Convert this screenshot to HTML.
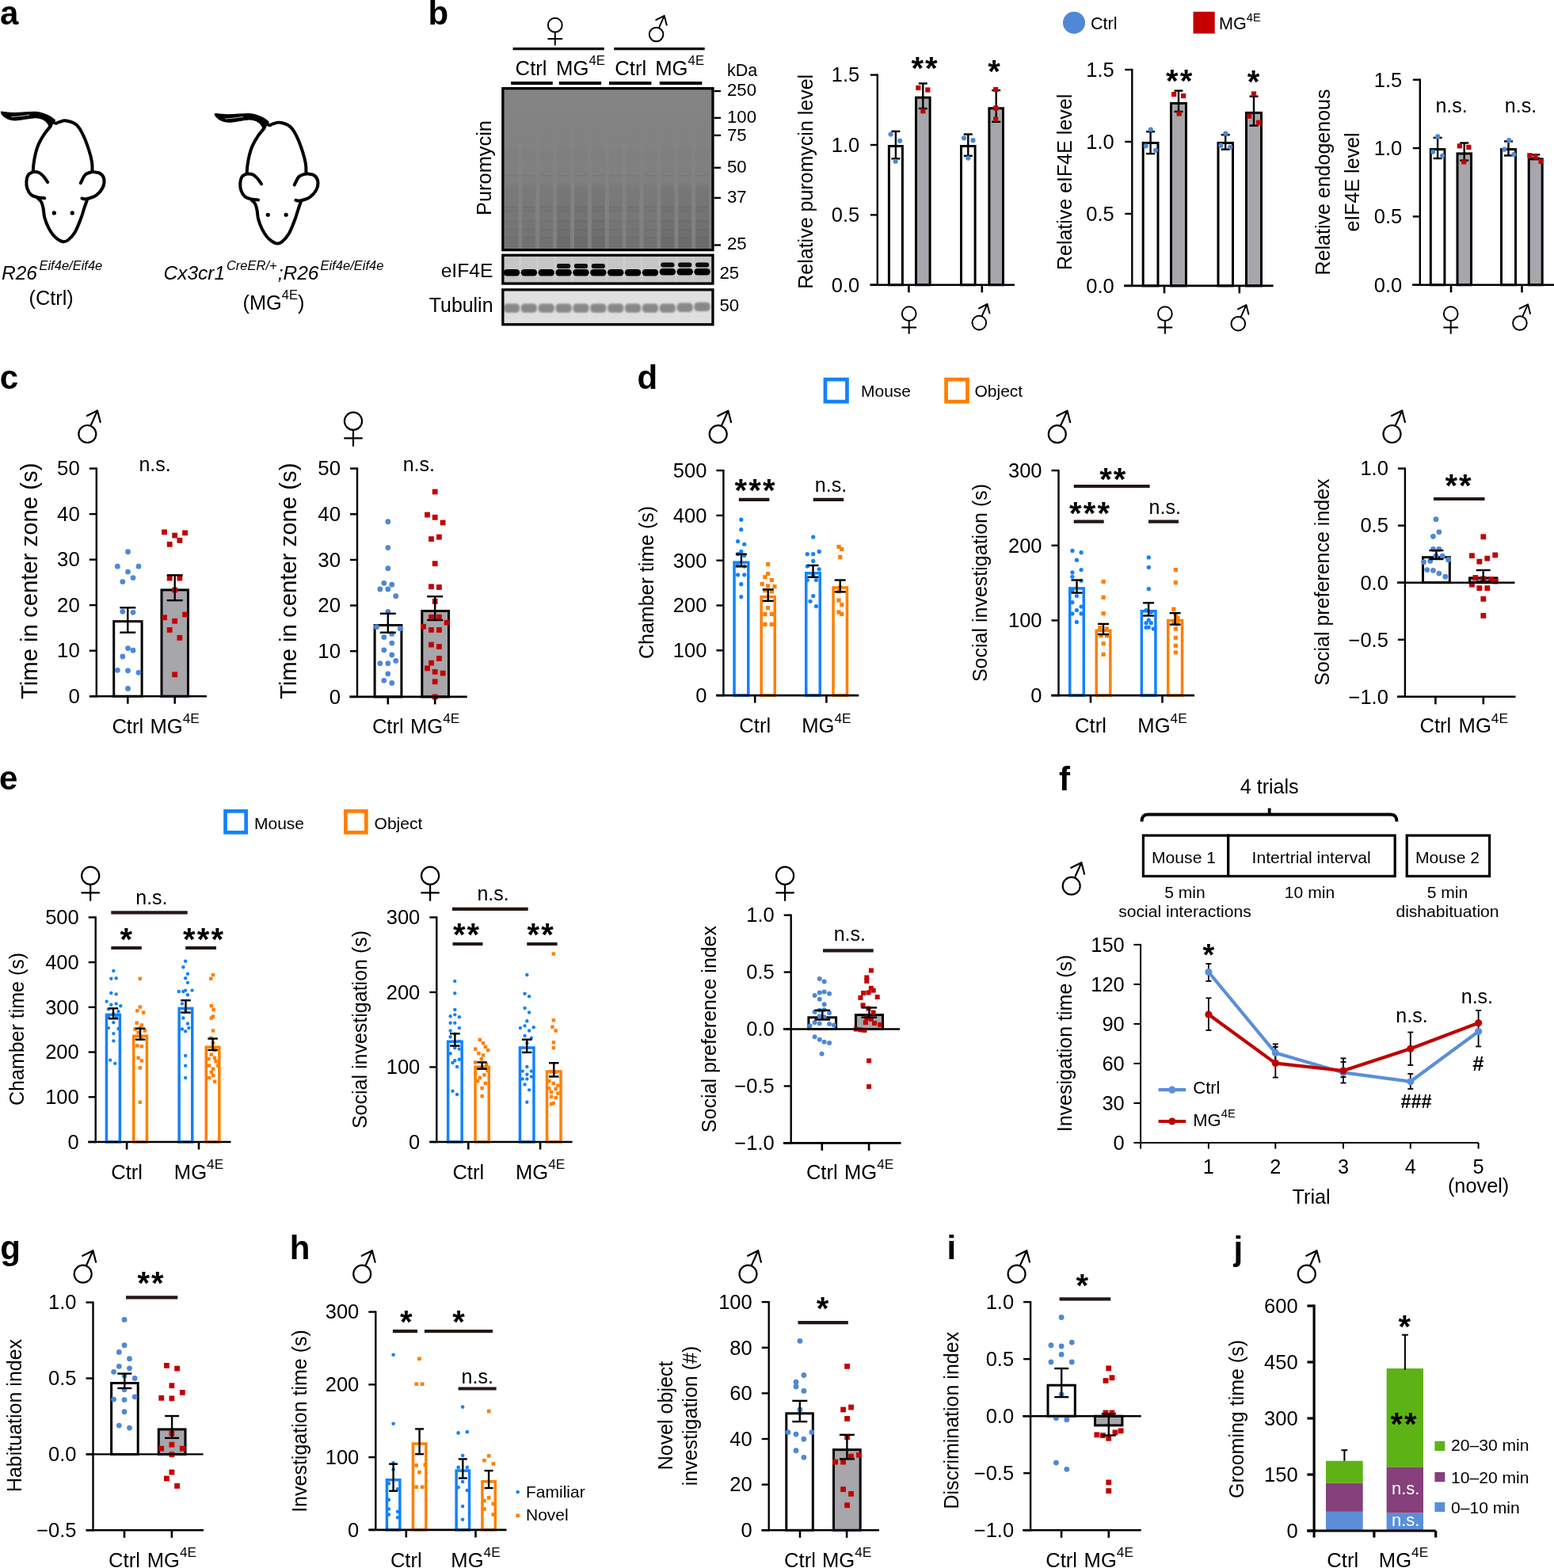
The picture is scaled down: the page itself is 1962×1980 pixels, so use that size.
<!DOCTYPE html>
<html><head><meta charset="utf-8"><title>Figure</title>
<style>
html,body{margin:0;padding:0;background:#fff;}
svg{display:block;}
svg text{font-family:"Liberation Sans", Arial, Helvetica, sans-serif;}
</style></head><body>
<svg width="1962" height="1980" viewBox="0 0 1962 1980">
<rect x="0" y="0" width="1962" height="1980" fill="#fff"/>
<text x="0" y="31" font-size="42" font-weight="bold">a</text>
<path d="M1.47 141.21C4.51 141.42 12.54 142.45 19.67 142.49C26.79 142.52 38.35 141.24 44.25 141.41C50.15 141.57 51.79 142.47 55.06 143.47C58.34 144.47 61.54 146.01 63.91 147.4C66.29 148.8 68.42 151.09 69.32 151.83L62.93 162.45C62.47 161.33 61.57 157.7 60.18 155.76C58.78 153.83 57.23 152.03 54.57 150.85C51.92 149.67 50.07 148.52 44.25 148.68C38.43 148.85 25.48 151.67 19.67 151.83C13.85 151.99 12.16 150.85 9.34 149.67C6.52 148.49 4.06 146.16 2.75 144.75C1.44 143.34 1.69 141.8 1.47 141.21Z" fill="#000" stroke="#000" stroke-width="1.2" stroke-linejoin="round"/>
<path d="M14.75 147.7C16.55 147.54 21.93 147.13 25.57 146.72C29.2 146.31 34.74 145.49 36.58 145.24" fill="none" stroke="#fff" stroke-width="0.9" stroke-linecap="round" opacity="0.85"/>
<path d="M63.91 159.3C62.52 161.06 58.1 166.02 55.56 169.82C53.02 173.63 50.46 178.1 48.67 182.11C46.89 186.13 45.89 189.65 44.84 193.91C43.79 198.17 42.89 203.83 42.38 207.68C41.87 211.53 41.89 215.46 41.79 217.02" fill="none" stroke="#000" stroke-width="4.0" stroke-linecap="round" stroke-linejoin="round"/>
<path d="M67.85 154.58C68.34 154.78 69.65 155.84 70.8 155.76C71.94 155.68 72.6 154.65 74.73 154.09C76.86 153.53 79.97 151.85 83.58 152.42C87.18 152.99 92.89 154.71 96.36 157.53C99.84 160.35 101.8 164.09 104.42 169.33C107.05 174.58 110.16 183.1 112.09 189C114.03 194.9 115.29 200.06 116.03 204.73C116.76 209.4 116.44 214.97 116.52 217.02" fill="none" stroke="#000" stroke-width="4.0" stroke-linecap="round" stroke-linejoin="round"/>
<path d="M41.79 217.02C40.81 217.59 37.28 218.58 35.89 220.46C34.5 222.35 33.68 225.38 33.43 228.33C33.19 231.28 33.43 235.21 34.41 238.16C35.4 241.11 37.2 244.19 39.33 246.03C41.46 247.86 44.38 248.49 47.2 249.17C50.02 249.86 54.74 249.99 56.24 250.16" fill="none" stroke="#000" stroke-width="4.0" stroke-linecap="round" stroke-linejoin="round"/>
<path d="M41.79 217.02C43.02 217.18 46.95 217.02 49.16 218C51.38 218.99 53.23 220.9 55.06 222.92C56.9 224.94 59.32 228.9 60.18 230.1" fill="none" stroke="#000" stroke-width="4.0" stroke-linecap="round" stroke-linejoin="round"/>
<path d="M116.52 217.02C118.16 217.35 123.89 217.51 126.35 218.99C128.81 220.46 130.69 222.92 131.27 225.87C131.84 228.82 131.43 233.24 129.79 236.69C128.15 240.13 124.88 244.11 121.44 246.52C117.99 248.93 112.14 250.47 109.14 251.14C106.15 251.81 104.39 250.65 103.44 250.55" fill="none" stroke="#000" stroke-width="4.0" stroke-linecap="round" stroke-linejoin="round"/>
<path d="M116.52 217.02C115.04 217.63 110.13 218.28 107.67 220.66C105.21 223.04 102.75 229.51 101.77 231.28" fill="none" stroke="#000" stroke-width="4.0" stroke-linecap="round" stroke-linejoin="round"/>
<path d="M48.18 250.75C48.84 251.44 51.05 252.88 52.11 254.88C53.18 256.88 53.88 259.47 54.57 262.74C55.26 266.02 55.15 270.45 56.24 274.54C57.34 278.64 59.06 283.31 61.16 287.33C63.26 291.34 65.91 295.68 68.83 298.63C71.75 301.58 75.84 304.25 78.66 305.02C81.48 305.79 83.09 305.22 85.74 303.25C88.4 301.29 91.84 297.85 94.59 293.23C97.35 288.6 100.29 280.61 102.26 275.53C104.23 270.45 105.08 266.68 106.39 262.74C107.7 258.81 109.51 253.73 110.13 251.93" fill="none" stroke="#000" stroke-width="4.0" stroke-linecap="round" stroke-linejoin="round"/>
<circle cx="68.34" cy="268.94" r="2.6" fill="#000"/>
<circle cx="91.25" cy="268.94" r="2.6" fill="#000"/>
<path d="M271.37 143.51C274.41 143.72 282.44 144.75 289.57 144.79C296.69 144.82 308.25 143.54 314.15 143.71C320.05 143.87 321.69 144.77 324.96 145.77C328.24 146.77 331.44 148.31 333.81 149.7C336.19 151.1 338.32 153.39 339.22 154.13L332.83 164.75C332.37 163.63 331.47 160 330.08 158.06C328.68 156.13 327.13 154.33 324.47 153.15C321.82 151.97 319.97 150.82 314.15 150.98C308.33 151.15 295.38 153.97 289.57 154.13C283.75 154.29 282.06 153.15 279.24 151.97C276.42 150.79 273.96 148.46 272.65 147.05C271.34 145.64 271.59 144.1 271.37 143.51Z" fill="#000" stroke="#000" stroke-width="1.2" stroke-linejoin="round"/>
<path d="M284.65 150C286.45 149.84 291.83 149.43 295.47 149.02C299.1 148.61 304.64 147.79 306.48 147.54" fill="none" stroke="#fff" stroke-width="0.9" stroke-linecap="round" opacity="0.85"/>
<path d="M333.81 161.6C332.42 163.36 328 168.32 325.46 172.12C322.92 175.93 320.36 180.4 318.57 184.41C316.79 188.43 315.79 191.95 314.74 196.21C313.69 200.47 312.79 206.13 312.28 209.98C311.77 213.83 311.79 217.76 311.69 219.32" fill="none" stroke="#000" stroke-width="4.0" stroke-linecap="round" stroke-linejoin="round"/>
<path d="M337.75 156.88C338.24 157.08 339.55 158.14 340.7 158.06C341.84 157.98 342.5 156.95 344.63 156.39C346.76 155.83 349.87 154.15 353.48 154.72C357.08 155.29 362.79 157.01 366.26 159.83C369.74 162.65 371.7 166.39 374.32 171.63C376.95 176.88 380.06 185.4 381.99 191.3C383.93 197.2 385.19 202.36 385.93 207.03C386.66 211.7 386.34 217.27 386.42 219.32" fill="none" stroke="#000" stroke-width="4.0" stroke-linecap="round" stroke-linejoin="round"/>
<path d="M311.69 219.32C310.71 219.89 307.18 220.88 305.79 222.76C304.4 224.65 303.58 227.68 303.33 230.63C303.09 233.58 303.33 237.51 304.31 240.46C305.3 243.41 307.1 246.49 309.23 248.33C311.36 250.16 314.28 250.79 317.1 251.47C319.92 252.16 324.64 252.29 326.14 252.46" fill="none" stroke="#000" stroke-width="4.0" stroke-linecap="round" stroke-linejoin="round"/>
<path d="M311.69 219.32C312.92 219.48 316.85 219.32 319.06 220.3C321.28 221.29 323.13 223.2 324.96 225.22C326.8 227.24 329.22 231.2 330.08 232.4" fill="none" stroke="#000" stroke-width="4.0" stroke-linecap="round" stroke-linejoin="round"/>
<path d="M386.42 219.32C388.06 219.65 393.79 219.81 396.25 221.29C398.71 222.76 400.59 225.22 401.17 228.17C401.74 231.12 401.33 235.54 399.69 238.99C398.05 242.43 394.78 246.41 391.34 248.82C387.89 251.23 382.04 252.77 379.04 253.44C376.05 254.11 374.29 252.95 373.34 252.85" fill="none" stroke="#000" stroke-width="4.0" stroke-linecap="round" stroke-linejoin="round"/>
<path d="M386.42 219.32C384.94 219.93 380.03 220.58 377.57 222.96C375.11 225.34 372.65 231.81 371.67 233.58" fill="none" stroke="#000" stroke-width="4.0" stroke-linecap="round" stroke-linejoin="round"/>
<path d="M318.08 253.05C318.74 253.74 320.95 255.18 322.01 257.18C323.08 259.18 323.78 261.77 324.47 265.04C325.16 268.32 325.05 272.75 326.14 276.84C327.24 280.94 328.96 285.61 331.06 289.63C333.16 293.64 335.81 297.98 338.73 300.93C341.65 303.88 345.74 306.55 348.56 307.32C351.38 308.09 352.99 307.52 355.64 305.55C358.3 303.59 361.74 300.15 364.49 295.53C367.25 290.9 370.19 282.91 372.16 277.83C374.13 272.75 374.98 268.98 376.29 265.04C377.6 261.11 379.41 256.03 380.03 254.23" fill="none" stroke="#000" stroke-width="4.0" stroke-linecap="round" stroke-linejoin="round"/>
<circle cx="338.24" cy="271.24" r="2.6" fill="#000"/>
<circle cx="361.15" cy="271.24" r="2.6" fill="#000"/>
<text x="2" y="352.7" font-size="24.5" font-style="italic">R26<tspan font-size="16.5" dy="-12" dx="2.5">Eif4e/Eif4e</tspan></text>
<text x="64.6" y="384.5" font-size="25.3" text-anchor="middle">(Ctrl)</text>
<text x="206.5" y="352.7" font-size="24.5" font-style="italic">Cx3cr1<tspan font-size="16.5" dy="-12" dx="1.8">CreER/+</tspan><tspan dy="12" dx="1">;R26</tspan><tspan font-size="16.5" dy="-12" dx="2.2">Eif4e/Eif4e</tspan></text>
<text x="345.5" y="390.5" font-size="25.3" text-anchor="middle">(MG<tspan font-size="16.5" dy="-12.5">4E</tspan><tspan dy="12.5">)</tspan></text>
<text x="540.5" y="30.7" font-size="42" font-weight="bold">b</text>
<g fill="none" stroke="#000" stroke-width="1.97"><circle cx="700.8" cy="31.7" r="8.88"/><path d="M700.8 40.58L700.8 57.3M691.44 48.98L710.16 48.98"/></g>
<g fill="none" stroke="#000" stroke-width="1.97" stroke-linecap="round" stroke-linejoin="round"><circle cx="828.6" cy="43.5" r="8.8"/><path d="M832.2 34.54L838.76 19.9M828.28 25.18L838.76 19.9L841.72 31.5"/></g>
<line x1="647.6" y1="61.6" x2="762.8" y2="61.6" stroke="#000" stroke-width="3.3"/>
<line x1="775.2" y1="61.6" x2="889.7" y2="61.6" stroke="#000" stroke-width="3.3"/>
<text x="670.6" y="94.5" font-size="25.7" text-anchor="middle">Ctrl</text>
<text x="702" y="94.5" font-size="25.7">MG<tspan font-size="16.8" dy="-12.85">4E</tspan></text>
<text x="796.2" y="94.5" font-size="25.7" text-anchor="middle">Ctrl</text>
<text x="827.2" y="94.5" font-size="25.7">MG<tspan font-size="16.8" dy="-12.85">4E</tspan></text>
<line x1="645.2" y1="105" x2="697.8" y2="105" stroke="#000" stroke-width="4"/>
<line x1="705.8" y1="105" x2="759.1" y2="105" stroke="#000" stroke-width="4"/>
<line x1="769" y1="105" x2="822.4" y2="105" stroke="#000" stroke-width="4"/>
<line x1="832.8" y1="105" x2="886.3" y2="105" stroke="#000" stroke-width="4"/>
<defs><linearGradient id="pg" x1="0" y1="0" x2="0" y2="1"><stop offset="0" stop-color="#848484"/><stop offset="1" stop-color="#808080"/></linearGradient><linearGradient id="lg" x1="0" y1="0" x2="0" y2="1"><stop offset="0" stop-color="#000" stop-opacity="0"/><stop offset="0.36" stop-color="#000" stop-opacity="0.01"/><stop offset="0.40" stop-color="#000" stop-opacity="0.03"/><stop offset="0.47" stop-color="#000" stop-opacity="0.015"/><stop offset="0.57" stop-color="#000" stop-opacity="0.015"/><stop offset="0.61" stop-color="#000" stop-opacity="0.06"/><stop offset="0.8" stop-color="#000" stop-opacity="0.08"/><stop offset="1" stop-color="#000" stop-opacity="0.12"/></linearGradient><linearGradient id="lg2" x1="0" y1="0" x2="0" y2="1"><stop offset="0" stop-color="#000" stop-opacity="0"/><stop offset="0.36" stop-color="#000" stop-opacity="0.01"/><stop offset="0.40" stop-color="#000" stop-opacity="0.035"/><stop offset="0.47" stop-color="#000" stop-opacity="0.02"/><stop offset="0.57" stop-color="#000" stop-opacity="0.02"/><stop offset="0.61" stop-color="#000" stop-opacity="0.075"/><stop offset="0.8" stop-color="#000" stop-opacity="0.11"/><stop offset="1" stop-color="#000" stop-opacity="0.17"/></linearGradient><filter id="bl" x="-20%" y="-50%" width="140%" height="200%"><feGaussianBlur stdDeviation="0.7"/></filter><filter id="bl2" x="-20%" y="-50%" width="140%" height="200%"><feGaussianBlur stdDeviation="1.1"/></filter></defs>
<rect x="634.85" y="111.65" width="265.1" height="204" fill="url(#pg)"/>
<rect x="637.5" y="113" width="17" height="202" fill="url(#lg)"/>
<rect x="659.37" y="113" width="17" height="202" fill="url(#lg)"/>
<rect x="681.24" y="113" width="17" height="202" fill="url(#lg)"/>
<rect x="703.11" y="113" width="17" height="202" fill="url(#lg2)"/>
<rect x="724.98" y="113" width="17" height="202" fill="url(#lg2)"/>
<rect x="746.85" y="113" width="17" height="202" fill="url(#lg2)"/>
<rect x="768.72" y="113" width="17" height="202" fill="url(#lg)"/>
<rect x="790.59" y="113" width="17" height="202" fill="url(#lg)"/>
<rect x="812.46" y="113" width="17" height="202" fill="url(#lg)"/>
<rect x="834.33" y="113" width="17" height="202" fill="url(#lg2)"/>
<rect x="856.2" y="113" width="17" height="202" fill="url(#lg2)"/>
<rect x="878.07" y="113" width="17" height="202" fill="url(#lg2)"/>
<rect x="638" y="221" width="16" height="1.6" fill="#000" opacity="0.05"/>
<rect x="638" y="260.8" width="16" height="2.4" fill="#000" opacity="0.05"/>
<rect x="638" y="265.3" width="16" height="2.4" fill="#000" opacity="0.04"/>
<rect x="638" y="278.3" width="16" height="2.4" fill="#000" opacity="0.03"/>
<rect x="638" y="288.8" width="16" height="2.4" fill="#000" opacity="0.04"/>
<rect x="638" y="298.8" width="16" height="2.4" fill="#000" opacity="0.04"/>
<rect x="659.87" y="221" width="16" height="1.6" fill="#000" opacity="0.05"/>
<rect x="659.87" y="260.8" width="16" height="2.4" fill="#000" opacity="0.05"/>
<rect x="659.87" y="265.3" width="16" height="2.4" fill="#000" opacity="0.04"/>
<rect x="659.87" y="278.3" width="16" height="2.4" fill="#000" opacity="0.03"/>
<rect x="659.87" y="288.8" width="16" height="2.4" fill="#000" opacity="0.04"/>
<rect x="659.87" y="298.8" width="16" height="2.4" fill="#000" opacity="0.04"/>
<rect x="681.74" y="221" width="16" height="1.6" fill="#000" opacity="0.05"/>
<rect x="681.74" y="260.8" width="16" height="2.4" fill="#000" opacity="0.05"/>
<rect x="681.74" y="265.3" width="16" height="2.4" fill="#000" opacity="0.04"/>
<rect x="681.74" y="278.3" width="16" height="2.4" fill="#000" opacity="0.03"/>
<rect x="681.74" y="288.8" width="16" height="2.4" fill="#000" opacity="0.04"/>
<rect x="681.74" y="298.8" width="16" height="2.4" fill="#000" opacity="0.04"/>
<rect x="703.61" y="221" width="16" height="1.6" fill="#000" opacity="0.05"/>
<rect x="703.61" y="260.8" width="16" height="2.4" fill="#000" opacity="0.05"/>
<rect x="703.61" y="265.3" width="16" height="2.4" fill="#000" opacity="0.04"/>
<rect x="703.61" y="278.3" width="16" height="2.4" fill="#000" opacity="0.06"/>
<rect x="703.61" y="288.8" width="16" height="2.4" fill="#000" opacity="0.04"/>
<rect x="703.61" y="298.8" width="16" height="2.4" fill="#000" opacity="0.04"/>
<rect x="725.48" y="221" width="16" height="1.6" fill="#000" opacity="0.05"/>
<rect x="725.48" y="260.8" width="16" height="2.4" fill="#000" opacity="0.05"/>
<rect x="725.48" y="265.3" width="16" height="2.4" fill="#000" opacity="0.04"/>
<rect x="725.48" y="278.3" width="16" height="2.4" fill="#000" opacity="0.06"/>
<rect x="725.48" y="288.8" width="16" height="2.4" fill="#000" opacity="0.04"/>
<rect x="725.48" y="298.8" width="16" height="2.4" fill="#000" opacity="0.04"/>
<rect x="747.35" y="221" width="16" height="1.6" fill="#000" opacity="0.05"/>
<rect x="747.35" y="260.8" width="16" height="2.4" fill="#000" opacity="0.05"/>
<rect x="747.35" y="265.3" width="16" height="2.4" fill="#000" opacity="0.04"/>
<rect x="747.35" y="278.3" width="16" height="2.4" fill="#000" opacity="0.06"/>
<rect x="747.35" y="288.8" width="16" height="2.4" fill="#000" opacity="0.04"/>
<rect x="747.35" y="298.8" width="16" height="2.4" fill="#000" opacity="0.04"/>
<rect x="769.22" y="221" width="16" height="1.6" fill="#000" opacity="0.05"/>
<rect x="769.22" y="260.8" width="16" height="2.4" fill="#000" opacity="0.05"/>
<rect x="769.22" y="265.3" width="16" height="2.4" fill="#000" opacity="0.04"/>
<rect x="769.22" y="278.3" width="16" height="2.4" fill="#000" opacity="0.03"/>
<rect x="769.22" y="288.8" width="16" height="2.4" fill="#000" opacity="0.04"/>
<rect x="769.22" y="298.8" width="16" height="2.4" fill="#000" opacity="0.04"/>
<rect x="791.09" y="221" width="16" height="1.6" fill="#000" opacity="0.05"/>
<rect x="791.09" y="260.8" width="16" height="2.4" fill="#000" opacity="0.05"/>
<rect x="791.09" y="265.3" width="16" height="2.4" fill="#000" opacity="0.04"/>
<rect x="791.09" y="278.3" width="16" height="2.4" fill="#000" opacity="0.03"/>
<rect x="791.09" y="288.8" width="16" height="2.4" fill="#000" opacity="0.04"/>
<rect x="791.09" y="298.8" width="16" height="2.4" fill="#000" opacity="0.04"/>
<rect x="812.96" y="221" width="16" height="1.6" fill="#000" opacity="0.05"/>
<rect x="812.96" y="260.8" width="16" height="2.4" fill="#000" opacity="0.05"/>
<rect x="812.96" y="265.3" width="16" height="2.4" fill="#000" opacity="0.04"/>
<rect x="812.96" y="278.3" width="16" height="2.4" fill="#000" opacity="0.03"/>
<rect x="812.96" y="288.8" width="16" height="2.4" fill="#000" opacity="0.04"/>
<rect x="812.96" y="298.8" width="16" height="2.4" fill="#000" opacity="0.04"/>
<rect x="834.83" y="221" width="16" height="1.6" fill="#000" opacity="0.05"/>
<rect x="834.83" y="260.8" width="16" height="2.4" fill="#000" opacity="0.05"/>
<rect x="834.83" y="265.3" width="16" height="2.4" fill="#000" opacity="0.04"/>
<rect x="834.83" y="278.3" width="16" height="2.4" fill="#000" opacity="0.06"/>
<rect x="834.83" y="288.8" width="16" height="2.4" fill="#000" opacity="0.04"/>
<rect x="834.83" y="298.8" width="16" height="2.4" fill="#000" opacity="0.04"/>
<rect x="856.7" y="221" width="16" height="1.6" fill="#000" opacity="0.05"/>
<rect x="856.7" y="260.8" width="16" height="2.4" fill="#000" opacity="0.05"/>
<rect x="856.7" y="265.3" width="16" height="2.4" fill="#000" opacity="0.04"/>
<rect x="856.7" y="278.3" width="16" height="2.4" fill="#000" opacity="0.06"/>
<rect x="856.7" y="288.8" width="16" height="2.4" fill="#000" opacity="0.04"/>
<rect x="856.7" y="298.8" width="16" height="2.4" fill="#000" opacity="0.04"/>
<rect x="878.57" y="221" width="16" height="1.6" fill="#000" opacity="0.05"/>
<rect x="878.57" y="260.8" width="16" height="2.4" fill="#000" opacity="0.05"/>
<rect x="878.57" y="265.3" width="16" height="2.4" fill="#000" opacity="0.04"/>
<rect x="878.57" y="278.3" width="16" height="2.4" fill="#000" opacity="0.06"/>
<rect x="878.57" y="288.8" width="16" height="2.4" fill="#000" opacity="0.04"/>
<rect x="878.57" y="298.8" width="16" height="2.4" fill="#000" opacity="0.04"/>
<rect x="634.85" y="111.65" width="265.1" height="204" fill="none" stroke="#000" stroke-width="3.3"/>
<rect x="634.85" y="322.25" width="265.1" height="35.8" fill="#c6c6c6"/>
<rect x="655.43" y="324" width="3" height="32.5" fill="#fff" opacity="0.12"/>
<rect x="677.31" y="324" width="3" height="32.5" fill="#fff" opacity="0.12"/>
<rect x="699.17" y="324" width="3" height="32.5" fill="#fff" opacity="0.12"/>
<rect x="721.05" y="324" width="3" height="32.5" fill="#fff" opacity="0.12"/>
<rect x="742.91" y="324" width="3" height="32.5" fill="#fff" opacity="0.12"/>
<rect x="764.79" y="324" width="3" height="32.5" fill="#fff" opacity="0.12"/>
<rect x="786.65" y="324" width="3" height="32.5" fill="#fff" opacity="0.12"/>
<rect x="808.53" y="324" width="3" height="32.5" fill="#fff" opacity="0.12"/>
<rect x="830.39" y="324" width="3" height="32.5" fill="#fff" opacity="0.12"/>
<rect x="852.27" y="324" width="3" height="32.5" fill="#fff" opacity="0.12"/>
<rect x="874.13" y="324" width="3" height="32.5" fill="#fff" opacity="0.12"/>
<g filter="url(#bl)">
<rect x="635.8" y="340" width="20.4" height="8.4" rx="4.2" fill="#000"/>
<rect x="657.67" y="340" width="20.4" height="8.4" rx="4.2" fill="#000"/>
<rect x="679.54" y="340" width="20.4" height="8.4" rx="4.2" fill="#000"/>
<rect x="701.41" y="340" width="20.4" height="8.4" rx="4.2" fill="#000"/>
<rect x="703.01" y="333" width="17.2" height="6" rx="3" fill="#080808"/>
<rect x="723.28" y="340" width="20.4" height="8.4" rx="4.2" fill="#000"/>
<rect x="724.88" y="333" width="17.2" height="6" rx="3" fill="#080808"/>
<rect x="745.15" y="340" width="20.4" height="8.4" rx="4.2" fill="#000"/>
<rect x="746.75" y="333" width="17.2" height="6" rx="3" fill="#080808"/>
<rect x="767.02" y="340" width="20.4" height="8.4" rx="4.2" fill="#000"/>
<rect x="788.89" y="340" width="20.4" height="8.4" rx="4.2" fill="#000"/>
<rect x="810.76" y="340" width="20.4" height="8.4" rx="4.2" fill="#000"/>
<rect x="832.63" y="339.1" width="20.4" height="8.4" rx="4.2" fill="#000"/>
<rect x="834.23" y="331.5" width="17.2" height="6" rx="3" fill="#080808"/>
<rect x="854.5" y="339.1" width="20.4" height="8.4" rx="4.2" fill="#000"/>
<rect x="856.1" y="331.5" width="17.2" height="6" rx="3" fill="#080808"/>
<rect x="876.37" y="339.1" width="20.4" height="8.4" rx="4.2" fill="#000"/>
<rect x="877.97" y="331.5" width="17.2" height="6" rx="3" fill="#080808"/>
</g>
<rect x="634.85" y="322.25" width="265.1" height="35.8" fill="none" stroke="#000" stroke-width="3.3"/>
<rect x="634.85" y="365.85" width="265.1" height="43.9" fill="#e0e0e0"/>
<g filter="url(#bl2)">
<rect x="636" y="383.5" width="20" height="11.3" rx="4.5" fill="#888888"/>
<rect x="638" y="399.5" width="16" height="1" fill="#000" opacity="0.05"/>
<rect x="657.87" y="383.5" width="20" height="11.3" rx="4.5" fill="#888888"/>
<rect x="659.87" y="399.5" width="16" height="1" fill="#000" opacity="0.05"/>
<rect x="679.74" y="383.5" width="20" height="11.3" rx="4.5" fill="#888888"/>
<rect x="681.74" y="399.5" width="16" height="1" fill="#000" opacity="0.05"/>
<rect x="701.61" y="383.5" width="20" height="11.3" rx="4.5" fill="#888888"/>
<rect x="703.61" y="399.5" width="16" height="1" fill="#000" opacity="0.05"/>
<rect x="723.48" y="383.5" width="20" height="11.3" rx="4.5" fill="#888888"/>
<rect x="725.48" y="399.5" width="16" height="1" fill="#000" opacity="0.05"/>
<rect x="745.35" y="383.5" width="20" height="11.3" rx="4.5" fill="#888888"/>
<rect x="747.35" y="399.5" width="16" height="1" fill="#000" opacity="0.05"/>
<rect x="767.22" y="383.5" width="20" height="11.3" rx="4.5" fill="#888888"/>
<rect x="769.22" y="399.5" width="16" height="1" fill="#000" opacity="0.05"/>
<rect x="789.09" y="383.5" width="20" height="11.3" rx="4.5" fill="#888888"/>
<rect x="791.09" y="399.5" width="16" height="1" fill="#000" opacity="0.05"/>
<rect x="810.96" y="383.5" width="20" height="11.3" rx="4.5" fill="#888888"/>
<rect x="812.96" y="399.5" width="16" height="1" fill="#000" opacity="0.05"/>
<rect x="832.83" y="383.5" width="20" height="11.3" rx="4.5" fill="#888888"/>
<rect x="834.83" y="399.5" width="16" height="1" fill="#000" opacity="0.05"/>
<rect x="854.7" y="382.6" width="20" height="11.3" rx="4.5" fill="#888888"/>
<rect x="856.7" y="399.5" width="16" height="1" fill="#000" opacity="0.05"/>
<rect x="876.57" y="381.7" width="20" height="11.3" rx="4.5" fill="#888888"/>
<rect x="878.57" y="399.5" width="16" height="1" fill="#000" opacity="0.05"/>
</g>
<rect x="634.85" y="365.85" width="265.1" height="43.9" fill="none" stroke="#000" stroke-width="3.3"/>
<text x="918" y="96.4" font-size="21.5">kDa</text>
<line x1="901.6" y1="115" x2="910" y2="115" stroke="#000" stroke-width="2.4"/>
<text x="918" y="121.1" font-size="22.2">250</text>
<line x1="901.6" y1="148.9" x2="910" y2="148.9" stroke="#000" stroke-width="2.4"/>
<text x="918" y="155.2" font-size="22.2">100</text>
<line x1="901.6" y1="170.9" x2="910" y2="170.9" stroke="#000" stroke-width="2.4"/>
<text x="918" y="177.5" font-size="22.2">75</text>
<line x1="901.6" y1="211.8" x2="910" y2="211.8" stroke="#000" stroke-width="2.4"/>
<text x="918" y="217.5" font-size="22.2">50</text>
<line x1="901.6" y1="249.9" x2="910" y2="249.9" stroke="#000" stroke-width="2.4"/>
<text x="918" y="256.3" font-size="22.2">37</text>
<line x1="901.6" y1="309.5" x2="910" y2="309.5" stroke="#000" stroke-width="2.4"/>
<text x="918" y="315.1" font-size="22.2">25</text>
<text x="908.5" y="351.5" font-size="22.2">25</text>
<text x="908.5" y="392.7" font-size="22.2">50</text>
<text x="620" y="212" font-size="25.4" text-anchor="middle" transform="rotate(-90 620 212)">Puromycin</text>
<text x="622.5" y="350.3" font-size="24.7" text-anchor="end">eIF4E</text>
<text x="622.5" y="393.8" font-size="24.9" text-anchor="end">Tubulin</text>
<rect x="1122.4" y="184.5" width="17" height="175.3" fill="#fff" stroke="#000" stroke-width="3"/>
<rect x="1156.5" y="123.15" width="17.6" height="236.65" fill="#A6A6AB" stroke="#000" stroke-width="3"/>
<rect x="1213.5" y="184.5" width="17.6" height="175.3" fill="#fff" stroke="#000" stroke-width="3"/>
<rect x="1248.9" y="136.76" width="17.6" height="223.04" fill="#A6A6AB" stroke="#000" stroke-width="3"/>
<line x1="1130.9" y1="165.85" x2="1130.9" y2="200.33" stroke="#000" stroke-width="2.4"/>
<line x1="1125.4" y1="165.85" x2="1136.4" y2="165.85" stroke="#000" stroke-width="2.4"/>
<line x1="1125.4" y1="200.33" x2="1136.4" y2="200.33" stroke="#000" stroke-width="2.4"/>
<line x1="1165.3" y1="105.38" x2="1165.3" y2="137.03" stroke="#000" stroke-width="2.4"/>
<line x1="1159.8" y1="105.38" x2="1170.8" y2="105.38" stroke="#000" stroke-width="2.4"/>
<line x1="1159.8" y1="137.03" x2="1170.8" y2="137.03" stroke="#000" stroke-width="2.4"/>
<line x1="1222.3" y1="169.56" x2="1222.3" y2="196.79" stroke="#000" stroke-width="2.4"/>
<line x1="1216.8" y1="169.56" x2="1227.8" y2="169.56" stroke="#000" stroke-width="2.4"/>
<line x1="1216.8" y1="196.79" x2="1227.8" y2="196.79" stroke="#000" stroke-width="2.4"/>
<line x1="1257.7" y1="114.05" x2="1257.7" y2="153.83" stroke="#000" stroke-width="2.4"/>
<line x1="1252.2" y1="114.05" x2="1263.2" y2="114.05" stroke="#000" stroke-width="2.4"/>
<line x1="1252.2" y1="153.83" x2="1263.2" y2="153.83" stroke="#000" stroke-width="2.4"/>
<circle cx="1124.57" cy="169.57" r="3.1" fill="#4F88D6"/>
<circle cx="1136.09" cy="177.83" r="3.1" fill="#4F88D6"/>
<circle cx="1130.65" cy="203.7" r="3.1" fill="#4F88D6"/>
<circle cx="1216.96" cy="174.35" r="3.1" fill="#4F88D6"/>
<circle cx="1228.48" cy="177.17" r="3.1" fill="#4F88D6"/>
<circle cx="1222.39" cy="199.57" r="3.1" fill="#4F88D6"/>
<rect x="1156.25" y="107.77" width="6.2" height="6.2" fill="#C40000"/>
<rect x="1168.2" y="110.38" width="6.2" height="6.2" fill="#C40000"/>
<rect x="1162.33" y="137.12" width="6.2" height="6.2" fill="#C40000"/>
<rect x="1254.07" y="109.94" width="6.2" height="6.2" fill="#C40000"/>
<rect x="1254.07" y="133.42" width="6.2" height="6.2" fill="#C40000"/>
<rect x="1254.07" y="147.33" width="6.2" height="6.2" fill="#C40000"/>
<line x1="1107.8" y1="93.4" x2="1107.8" y2="361" stroke="#000" stroke-width="2.4"/>
<line x1="1098.8" y1="359.8" x2="1107.8" y2="359.8" stroke="#000" stroke-width="2.4"/>
<text x="1085.2" y="368.6" font-size="25.5" text-anchor="end">0.0</text>
<line x1="1098.8" y1="271.4" x2="1107.8" y2="271.4" stroke="#000" stroke-width="2.4"/>
<text x="1085.2" y="280.2" font-size="25.5" text-anchor="end">0.5</text>
<line x1="1098.8" y1="183" x2="1107.8" y2="183" stroke="#000" stroke-width="2.4"/>
<text x="1085.2" y="191.8" font-size="25.5" text-anchor="end">1.0</text>
<line x1="1098.8" y1="94.6" x2="1107.8" y2="94.6" stroke="#000" stroke-width="2.4"/>
<text x="1085.2" y="103.4" font-size="25.5" text-anchor="end">1.5</text>
<line x1="1098.5" y1="359.8" x2="1281" y2="359.8" stroke="#000" stroke-width="2.6"/>
<line x1="1147.4" y1="359.8" x2="1147.4" y2="369.3" stroke="#000" stroke-width="2.6"/>
<line x1="1239.8" y1="359.8" x2="1239.8" y2="369.3" stroke="#000" stroke-width="2.6"/>
<g fill="none" stroke="#000" stroke-width="1.97"><circle cx="1147.7" cy="396.2" r="8.88"/><path d="M1147.7 405.08L1147.7 421.8M1138.34 413.48L1157.06 413.48"/></g>
<g fill="none" stroke="#000" stroke-width="1.97" stroke-linecap="round" stroke-linejoin="round"><circle cx="1236.3" cy="407.6" r="8.8"/><path d="M1239.9 398.64L1246.46 384M1235.98 389.28L1246.46 384L1249.42 395.6"/></g>
<text x="1168.05" y="100.4" font-size="40" text-anchor="middle" font-weight="bold" letter-spacing="2.1">**</text>
<text x="1255" y="103.6" font-size="40" text-anchor="middle" font-weight="bold">*</text>
<text x="1025.6" y="229.3" font-size="25" text-anchor="middle" transform="rotate(-90 1025.6 229.3)">Relative puromycin level</text>
<rect x="1443.2" y="180.47" width="18.8" height="180.43" fill="#fff" stroke="#000" stroke-width="3"/>
<rect x="1478.5" y="130.44" width="19" height="230.46" fill="#A6A6AB" stroke="#000" stroke-width="3"/>
<rect x="1538" y="180.47" width="18.5" height="180.43" fill="#fff" stroke="#000" stroke-width="3"/>
<rect x="1573.5" y="142.44" width="19" height="218.46" fill="#A6A6AB" stroke="#000" stroke-width="3"/>
<line x1="1452.6" y1="166.23" x2="1452.6" y2="194.07" stroke="#000" stroke-width="2.4"/>
<line x1="1447.1" y1="166.23" x2="1458.1" y2="166.23" stroke="#000" stroke-width="2.4"/>
<line x1="1447.1" y1="194.07" x2="1458.1" y2="194.07" stroke="#000" stroke-width="2.4"/>
<line x1="1488" y1="114.56" x2="1488" y2="140.94" stroke="#000" stroke-width="2.4"/>
<line x1="1482.5" y1="114.56" x2="1493.5" y2="114.56" stroke="#000" stroke-width="2.4"/>
<line x1="1482.5" y1="140.94" x2="1493.5" y2="140.94" stroke="#000" stroke-width="2.4"/>
<line x1="1547.2" y1="170.23" x2="1547.2" y2="188.61" stroke="#000" stroke-width="2.4"/>
<line x1="1541.7" y1="170.23" x2="1552.7" y2="170.23" stroke="#000" stroke-width="2.4"/>
<line x1="1541.7" y1="188.61" x2="1552.7" y2="188.61" stroke="#000" stroke-width="2.4"/>
<line x1="1583" y1="121.66" x2="1583" y2="158.59" stroke="#000" stroke-width="2.4"/>
<line x1="1577.5" y1="121.66" x2="1588.5" y2="121.66" stroke="#000" stroke-width="2.4"/>
<line x1="1577.5" y1="158.59" x2="1588.5" y2="158.59" stroke="#000" stroke-width="2.4"/>
<circle cx="1452.83" cy="163.48" r="3.1" fill="#4F88D6"/>
<circle cx="1446.74" cy="184.35" r="3.1" fill="#4F88D6"/>
<circle cx="1459.13" cy="189.78" r="3.1" fill="#4F88D6"/>
<circle cx="1547.39" cy="168.48" r="3.1" fill="#4F88D6"/>
<circle cx="1541.3" cy="183.7" r="3.1" fill="#4F88D6"/>
<circle cx="1553.26" cy="185.87" r="3.1" fill="#4F88D6"/>
<rect x="1479.07" y="116.03" width="6.2" height="6.2" fill="#C40000"/>
<rect x="1491.03" y="117.99" width="6.2" height="6.2" fill="#C40000"/>
<rect x="1485.6" y="140.38" width="6.2" height="6.2" fill="#C40000"/>
<rect x="1579.94" y="115.38" width="6.2" height="6.2" fill="#C40000"/>
<rect x="1574.07" y="143.64" width="6.2" height="6.2" fill="#C40000"/>
<rect x="1586.03" y="151.68" width="6.2" height="6.2" fill="#C40000"/>
<line x1="1429.3" y1="86.8" x2="1429.3" y2="362.1" stroke="#000" stroke-width="2.4"/>
<line x1="1420.3" y1="360.9" x2="1429.3" y2="360.9" stroke="#000" stroke-width="2.4"/>
<text x="1406.7" y="369.7" font-size="25.5" text-anchor="end">0.0</text>
<line x1="1420.3" y1="269.93" x2="1429.3" y2="269.93" stroke="#000" stroke-width="2.4"/>
<text x="1406.7" y="278.73" font-size="25.5" text-anchor="end">0.5</text>
<line x1="1420.3" y1="178.97" x2="1429.3" y2="178.97" stroke="#000" stroke-width="2.4"/>
<text x="1406.7" y="187.77" font-size="25.5" text-anchor="end">1.0</text>
<line x1="1420.3" y1="88" x2="1429.3" y2="88" stroke="#000" stroke-width="2.4"/>
<text x="1406.7" y="96.8" font-size="25.5" text-anchor="end">1.5</text>
<line x1="1419" y1="360.9" x2="1607.6" y2="360.9" stroke="#000" stroke-width="2.6"/>
<line x1="1470" y1="360.9" x2="1470" y2="370.4" stroke="#000" stroke-width="2.6"/>
<line x1="1564.8" y1="360.9" x2="1564.8" y2="370.4" stroke="#000" stroke-width="2.6"/>
<g fill="none" stroke="#000" stroke-width="1.97"><circle cx="1470.9" cy="396.2" r="8.88"/><path d="M1470.9 405.08L1470.9 421.8M1461.54 413.48L1480.26 413.48"/></g>
<g fill="none" stroke="#000" stroke-width="1.97" stroke-linecap="round" stroke-linejoin="round"><circle cx="1563.3" cy="408.7" r="8.8"/><path d="M1566.9 399.74L1573.46 385.1M1562.98 390.38L1573.46 385.1L1576.42 396.7"/></g>
<text x="1489.75" y="115.6" font-size="40" text-anchor="middle" font-weight="bold" letter-spacing="2.1">**</text>
<text x="1582.6" y="116.7" font-size="40" text-anchor="middle" font-weight="bold">*</text>
<text x="1353.3" y="229.9" font-size="25" text-anchor="middle" transform="rotate(-90 1353.3 229.9)">Relative eIF4E level</text>
<circle cx="1356" cy="28.7" r="14" fill="#4F88D6"/>
<text x="1377" y="37.4" font-size="21.6">Ctrl</text>
<rect x="1506.5" y="14.8" width="27.2" height="27.6" fill="#C40000"/>
<text x="1539" y="37.4" font-size="21.6">MG<tspan font-size="14.6" dy="-10.8">4E</tspan></text>
<rect x="1806.3" y="188.57" width="17.6" height="171.23" fill="#fff" stroke="#000" stroke-width="3"/>
<rect x="1840" y="193.92" width="17.5" height="165.88" fill="#A6A6AB" stroke="#000" stroke-width="3"/>
<rect x="1895.5" y="188.57" width="18" height="171.23" fill="#fff" stroke="#000" stroke-width="3"/>
<rect x="1930.2" y="200.83" width="17" height="158.97" fill="#A6A6AB" stroke="#000" stroke-width="3"/>
<line x1="1815.1" y1="173.94" x2="1815.1" y2="200.02" stroke="#000" stroke-width="2.4"/>
<line x1="1809.6" y1="173.94" x2="1820.6" y2="173.94" stroke="#000" stroke-width="2.4"/>
<line x1="1809.6" y1="200.02" x2="1820.6" y2="200.02" stroke="#000" stroke-width="2.4"/>
<line x1="1848.7" y1="180.5" x2="1848.7" y2="202.61" stroke="#000" stroke-width="2.4"/>
<line x1="1843.2" y1="180.5" x2="1854.2" y2="180.5" stroke="#000" stroke-width="2.4"/>
<line x1="1843.2" y1="202.61" x2="1854.2" y2="202.61" stroke="#000" stroke-width="2.4"/>
<line x1="1904.5" y1="178.43" x2="1904.5" y2="196.39" stroke="#000" stroke-width="2.4"/>
<line x1="1899" y1="178.43" x2="1910" y2="178.43" stroke="#000" stroke-width="2.4"/>
<line x1="1899" y1="196.39" x2="1910" y2="196.39" stroke="#000" stroke-width="2.4"/>
<line x1="1938.7" y1="195.36" x2="1938.7" y2="199.68" stroke="#000" stroke-width="2.4"/>
<line x1="1933.2" y1="195.36" x2="1944.2" y2="195.36" stroke="#000" stroke-width="2.4"/>
<line x1="1933.2" y1="199.68" x2="1944.2" y2="199.68" stroke="#000" stroke-width="2.4"/>
<circle cx="1815.22" cy="172.39" r="3.1" fill="#4F88D6"/>
<circle cx="1809.13" cy="191.74" r="3.1" fill="#4F88D6"/>
<circle cx="1821.09" cy="196.74" r="3.1" fill="#4F88D6"/>
<circle cx="1905.22" cy="177.17" r="3.1" fill="#4F88D6"/>
<circle cx="1899.35" cy="188.7" r="3.1" fill="#4F88D6"/>
<circle cx="1911.3" cy="195.22" r="3.1" fill="#4F88D6"/>
<rect x="1839.73" y="181.25" width="6.2" height="6.2" fill="#C40000"/>
<rect x="1851.25" y="182.77" width="6.2" height="6.2" fill="#C40000"/>
<rect x="1845.16" y="201.25" width="6.2" height="6.2" fill="#C40000"/>
<rect x="1928.2" y="193.2" width="6.2" height="6.2" fill="#C40000"/>
<rect x="1935.38" y="194.73" width="6.2" height="6.2" fill="#C40000"/>
<rect x="1942.55" y="200.81" width="6.2" height="6.2" fill="#C40000"/>
<line x1="1792.8" y1="99.5" x2="1792.8" y2="361" stroke="#000" stroke-width="2.4"/>
<line x1="1783.8" y1="359.8" x2="1792.8" y2="359.8" stroke="#000" stroke-width="2.4"/>
<text x="1770.2" y="368.6" font-size="25.5" text-anchor="end">0.0</text>
<line x1="1783.8" y1="273.43" x2="1792.8" y2="273.43" stroke="#000" stroke-width="2.4"/>
<text x="1770.2" y="282.23" font-size="25.5" text-anchor="end">0.5</text>
<line x1="1783.8" y1="187.07" x2="1792.8" y2="187.07" stroke="#000" stroke-width="2.4"/>
<text x="1770.2" y="195.87" font-size="25.5" text-anchor="end">1.0</text>
<line x1="1783.8" y1="100.7" x2="1792.8" y2="100.7" stroke="#000" stroke-width="2.4"/>
<text x="1770.2" y="109.5" font-size="25.5" text-anchor="end">1.5</text>
<line x1="1783" y1="359.8" x2="1962" y2="359.8" stroke="#000" stroke-width="2.6"/>
<line x1="1832" y1="359.8" x2="1832" y2="369.3" stroke="#000" stroke-width="2.6"/>
<line x1="1921.5" y1="359.8" x2="1921.5" y2="369.3" stroke="#000" stroke-width="2.6"/>
<g fill="none" stroke="#000" stroke-width="1.97"><circle cx="1831.7" cy="396.2" r="8.88"/><path d="M1831.7 405.08L1831.7 421.8M1822.34 413.48L1841.06 413.48"/></g>
<g fill="none" stroke="#000" stroke-width="1.97" stroke-linecap="round" stroke-linejoin="round"><circle cx="1918.9" cy="408" r="8.8"/><path d="M1922.5 399.04L1929.06 384.4M1918.58 389.68L1929.06 384.4L1932.02 396"/></g>
<text x="1832.6" y="142.4" font-size="25" text-anchor="middle">n.s.</text>
<text x="1920" y="142.4" font-size="25" text-anchor="middle">n.s.</text>
<text x="1678.7" y="230" font-size="25" text-anchor="middle" transform="rotate(-90 1678.7 230)">Relative endogenous</text>
<text x="1715.7" y="230" font-size="25" text-anchor="middle" transform="rotate(-90 1715.7 230)">eIF4E level</text>
<text x="-0.3" y="490.6" font-size="42" font-weight="bold">c</text>
<rect x="143.7" y="784.64" width="35.4" height="94.56" fill="#fff" stroke="#000" stroke-width="3"/>
<rect x="204" y="744.95" width="33.5" height="134.25" fill="#A6A6AB" stroke="#000" stroke-width="3"/>
<circle cx="161.53" cy="696.77" r="3.4" fill="#4F88D6"/>
<circle cx="148.36" cy="715.16" r="3.4" fill="#4F88D6"/>
<circle cx="174.95" cy="715.16" r="3.4" fill="#4F88D6"/>
<circle cx="161.53" cy="722.12" r="3.4" fill="#4F88D6"/>
<circle cx="167.99" cy="729.57" r="3.4" fill="#4F88D6"/>
<circle cx="154.82" cy="734.54" r="3.4" fill="#4F88D6"/>
<circle cx="154.82" cy="772.32" r="3.4" fill="#4F88D6"/>
<circle cx="167.99" cy="773.31" r="3.4" fill="#4F88D6"/>
<circle cx="161.53" cy="818.54" r="3.4" fill="#4F88D6"/>
<circle cx="167.99" cy="821.27" r="3.4" fill="#4F88D6"/>
<circle cx="154.82" cy="828.98" r="3.4" fill="#4F88D6"/>
<circle cx="148.36" cy="846.37" r="3.4" fill="#4F88D6"/>
<circle cx="161.53" cy="846.87" r="3.4" fill="#4F88D6"/>
<circle cx="174.95" cy="849.35" r="3.4" fill="#4F88D6"/>
<circle cx="161.53" cy="869.48" r="3.4" fill="#4F88D6"/>
<rect x="204.1" y="668.52" width="6.8" height="6.8" fill="#C40000"/>
<rect x="217.28" y="672.74" width="6.8" height="6.8" fill="#C40000"/>
<rect x="230.2" y="669.51" width="6.8" height="6.8" fill="#C40000"/>
<rect x="223.49" y="678.96" width="6.8" height="6.8" fill="#C40000"/>
<rect x="210.81" y="683.93" width="6.8" height="6.8" fill="#C40000"/>
<rect x="210.81" y="726.67" width="6.8" height="6.8" fill="#C40000"/>
<rect x="223.49" y="726.67" width="6.8" height="6.8" fill="#C40000"/>
<rect x="217.28" y="741.58" width="6.8" height="6.8" fill="#C40000"/>
<rect x="204.1" y="776.37" width="6.8" height="6.8" fill="#C40000"/>
<rect x="230.2" y="772.64" width="6.8" height="6.8" fill="#C40000"/>
<rect x="217.28" y="780.84" width="6.8" height="6.8" fill="#C40000"/>
<rect x="210.81" y="792.03" width="6.8" height="6.8" fill="#C40000"/>
<rect x="223.49" y="801.97" width="6.8" height="6.8" fill="#C40000"/>
<rect x="217.28" y="848.44" width="6.8" height="6.8" fill="#C40000"/>
<line x1="161.3" y1="767.32" x2="161.3" y2="798.67" stroke="#000" stroke-width="2.4"/>
<line x1="151.3" y1="767.32" x2="171.3" y2="767.32" stroke="#000" stroke-width="2.4"/>
<line x1="151.3" y1="798.67" x2="171.3" y2="798.67" stroke="#000" stroke-width="2.4"/>
<line x1="220.7" y1="726.31" x2="220.7" y2="758.12" stroke="#000" stroke-width="2.4"/>
<line x1="210.7" y1="726.31" x2="230.7" y2="726.31" stroke="#000" stroke-width="2.4"/>
<line x1="210.7" y1="758.12" x2="230.7" y2="758.12" stroke="#000" stroke-width="2.4"/>
<line x1="121.8" y1="590.4" x2="121.8" y2="880.4" stroke="#000" stroke-width="2.4"/>
<line x1="112.8" y1="879.2" x2="121.8" y2="879.2" stroke="#000" stroke-width="2.4"/>
<text x="100.8" y="888" font-size="25.8" text-anchor="end">0</text>
<line x1="112.8" y1="821.68" x2="121.8" y2="821.68" stroke="#000" stroke-width="2.4"/>
<text x="100.8" y="830.48" font-size="25.8" text-anchor="end">10</text>
<line x1="112.8" y1="764.16" x2="121.8" y2="764.16" stroke="#000" stroke-width="2.4"/>
<text x="100.8" y="772.96" font-size="25.8" text-anchor="end">20</text>
<line x1="112.8" y1="706.64" x2="121.8" y2="706.64" stroke="#000" stroke-width="2.4"/>
<text x="100.8" y="715.44" font-size="25.8" text-anchor="end">30</text>
<line x1="112.8" y1="649.12" x2="121.8" y2="649.12" stroke="#000" stroke-width="2.4"/>
<text x="100.8" y="657.92" font-size="25.8" text-anchor="end">40</text>
<line x1="112.8" y1="591.6" x2="121.8" y2="591.6" stroke="#000" stroke-width="2.4"/>
<text x="100.8" y="600.4" font-size="25.8" text-anchor="end">50</text>
<line x1="113" y1="879.2" x2="261" y2="879.2" stroke="#000" stroke-width="2.6"/>
<line x1="161.3" y1="879.2" x2="161.3" y2="888.7" stroke="#000" stroke-width="2.6"/>
<line x1="220.7" y1="879.2" x2="220.7" y2="888.7" stroke="#000" stroke-width="2.6"/>
<text x="161.3" y="925.5" font-size="25.6" text-anchor="middle">Ctrl</text>
<text x="220.7" y="925.5" font-size="25.6" text-anchor="middle">MG<tspan font-size="17.28" dy="-12.8">4E</tspan></text>
<g fill="none" stroke="#000" stroke-width="2.2" stroke-linecap="round" stroke-linejoin="round"><circle cx="110.3" cy="548" r="11"/><path d="M114.8 536.8L123 518.5M109.9 525.1L123 518.5L126.7 533"/></g>
<text x="195.6" y="595.4" font-size="25" text-anchor="middle">n.s.</text>
<text x="47.4" y="733.8" font-size="29.3" text-anchor="middle" transform="rotate(-90 47.4 733.8)">Time in center zone (s)</text>
<rect x="473.1" y="789.49" width="33.8" height="90.41" fill="#fff" stroke="#000" stroke-width="3"/>
<rect x="532.8" y="771.5" width="33.7" height="108.4" fill="#A6A6AB" stroke="#000" stroke-width="3"/>
<circle cx="489.79" cy="658.75" r="3.4" fill="#4F88D6"/>
<circle cx="489.79" cy="691.55" r="3.4" fill="#4F88D6"/>
<circle cx="489.79" cy="717.64" r="3.4" fill="#4F88D6"/>
<circle cx="484.82" cy="736.28" r="3.4" fill="#4F88D6"/>
<circle cx="494.76" cy="738.27" r="3.4" fill="#4F88D6"/>
<circle cx="479.85" cy="743.99" r="3.4" fill="#4F88D6"/>
<circle cx="489.79" cy="743.99" r="3.4" fill="#4F88D6"/>
<circle cx="499.73" cy="752.68" r="3.4" fill="#4F88D6"/>
<circle cx="489.79" cy="772.32" r="3.4" fill="#4F88D6"/>
<circle cx="475.38" cy="791.7" r="3.4" fill="#4F88D6"/>
<circle cx="505.2" cy="793.69" r="3.4" fill="#4F88D6"/>
<circle cx="484.82" cy="804.62" r="3.4" fill="#4F88D6"/>
<circle cx="494.76" cy="800.4" r="3.4" fill="#4F88D6"/>
<circle cx="494.76" cy="812.08" r="3.4" fill="#4F88D6"/>
<circle cx="484.82" cy="820.78" r="3.4" fill="#4F88D6"/>
<circle cx="494.76" cy="826.99" r="3.4" fill="#4F88D6"/>
<circle cx="499.73" cy="834.44" r="3.4" fill="#4F88D6"/>
<circle cx="479.85" cy="837.67" r="3.4" fill="#4F88D6"/>
<circle cx="489.79" cy="837.67" r="3.4" fill="#4F88D6"/>
<circle cx="489.79" cy="850.84" r="3.4" fill="#4F88D6"/>
<circle cx="484.82" cy="859.29" r="3.4" fill="#4F88D6"/>
<circle cx="494.76" cy="862.52" r="3.4" fill="#4F88D6"/>
<rect x="545.78" y="617.57" width="6.8" height="6.8" fill="#C40000"/>
<rect x="536.09" y="646.65" width="6.8" height="6.8" fill="#C40000"/>
<rect x="545.78" y="649.88" width="6.8" height="6.8" fill="#C40000"/>
<rect x="555.73" y="656.59" width="6.8" height="6.8" fill="#C40000"/>
<rect x="541.06" y="677.22" width="6.8" height="6.8" fill="#C40000"/>
<rect x="551" y="674.73" width="6.8" height="6.8" fill="#C40000"/>
<rect x="545.78" y="708.28" width="6.8" height="6.8" fill="#C40000"/>
<rect x="541.06" y="737.36" width="6.8" height="6.8" fill="#C40000"/>
<rect x="551" y="738.1" width="6.8" height="6.8" fill="#C40000"/>
<rect x="545.78" y="755.99" width="6.8" height="6.8" fill="#C40000"/>
<rect x="541.06" y="775.87" width="6.8" height="6.8" fill="#C40000"/>
<rect x="551" y="775.87" width="6.8" height="6.8" fill="#C40000"/>
<rect x="560.7" y="782.83" width="6.8" height="6.8" fill="#C40000"/>
<rect x="531.12" y="787.8" width="6.8" height="6.8" fill="#C40000"/>
<rect x="541.06" y="792.03" width="6.8" height="6.8" fill="#C40000"/>
<rect x="551" y="792.03" width="6.8" height="6.8" fill="#C40000"/>
<rect x="541.06" y="810.67" width="6.8" height="6.8" fill="#C40000"/>
<rect x="551" y="813.15" width="6.8" height="6.8" fill="#C40000"/>
<rect x="551" y="828.06" width="6.8" height="6.8" fill="#C40000"/>
<rect x="541.06" y="833.78" width="6.8" height="6.8" fill="#C40000"/>
<rect x="536.09" y="840.49" width="6.8" height="6.8" fill="#C40000"/>
<rect x="545.78" y="844.96" width="6.8" height="6.8" fill="#C40000"/>
<rect x="555.73" y="846.7" width="6.8" height="6.8" fill="#C40000"/>
<rect x="545.78" y="857.39" width="6.8" height="6.8" fill="#C40000"/>
<rect x="545.78" y="876.52" width="6.8" height="6.8" fill="#C40000"/>
<line x1="489.8" y1="774.79" x2="489.8" y2="798.71" stroke="#000" stroke-width="2.4"/>
<line x1="479.8" y1="774.79" x2="499.8" y2="774.79" stroke="#000" stroke-width="2.4"/>
<line x1="479.8" y1="798.71" x2="499.8" y2="798.71" stroke="#000" stroke-width="2.4"/>
<line x1="549.2" y1="753.22" x2="549.2" y2="783.03" stroke="#000" stroke-width="2.4"/>
<line x1="539.2" y1="753.22" x2="559.2" y2="753.22" stroke="#000" stroke-width="2.4"/>
<line x1="539.2" y1="783.03" x2="559.2" y2="783.03" stroke="#000" stroke-width="2.4"/>
<line x1="451" y1="590.4" x2="451" y2="881.1" stroke="#000" stroke-width="2.4"/>
<line x1="442" y1="879.9" x2="451" y2="879.9" stroke="#000" stroke-width="2.4"/>
<text x="430" y="888.7" font-size="25.8" text-anchor="end">0</text>
<line x1="442" y1="822.24" x2="451" y2="822.24" stroke="#000" stroke-width="2.4"/>
<text x="430" y="831.04" font-size="25.8" text-anchor="end">10</text>
<line x1="442" y1="764.58" x2="451" y2="764.58" stroke="#000" stroke-width="2.4"/>
<text x="430" y="773.38" font-size="25.8" text-anchor="end">20</text>
<line x1="442" y1="706.92" x2="451" y2="706.92" stroke="#000" stroke-width="2.4"/>
<text x="430" y="715.72" font-size="25.8" text-anchor="end">30</text>
<line x1="442" y1="649.26" x2="451" y2="649.26" stroke="#000" stroke-width="2.4"/>
<text x="430" y="658.06" font-size="25.8" text-anchor="end">40</text>
<line x1="442" y1="591.6" x2="451" y2="591.6" stroke="#000" stroke-width="2.4"/>
<text x="430" y="600.4" font-size="25.8" text-anchor="end">50</text>
<line x1="441.3" y1="879.9" x2="589.7" y2="879.9" stroke="#000" stroke-width="2.6"/>
<line x1="489.8" y1="879.9" x2="489.8" y2="889.4" stroke="#000" stroke-width="2.6"/>
<line x1="549.2" y1="879.9" x2="549.2" y2="889.4" stroke="#000" stroke-width="2.6"/>
<text x="489.8" y="925.5" font-size="25.6" text-anchor="middle">Ctrl</text>
<text x="549.2" y="925.5" font-size="25.6" text-anchor="middle">MG<tspan font-size="17.28" dy="-12.8">4E</tspan></text>
<g fill="none" stroke="#000" stroke-width="2.2"><circle cx="446" cy="531.8" r="11.1"/><path d="M446 542.9L446 563.8M434.3 553.4L457.7 553.4"/></g>
<text x="528.8" y="595.4" font-size="25" text-anchor="middle">n.s.</text>
<text x="373.8" y="733.8" font-size="29.3" text-anchor="middle" transform="rotate(-90 373.8 733.8)">Time in center zone (s)</text>
<text x="804.4" y="490.6" font-size="42" font-weight="bold">d</text>
<rect x="1041.95" y="479.15" width="27.5" height="28" fill="#fff" stroke="#1482FA" stroke-width="4.7"/>
<text x="1087" y="500.5" font-size="21">Mouse</text>
<rect x="1194.55" y="479.15" width="26.9" height="28" fill="#fff" stroke="#FF7F00" stroke-width="4.7"/>
<text x="1230.5" y="500.5" font-size="21">Object</text>
<rect x="927.05" y="710.13" width="17.7" height="167.97" fill="#fff" stroke="#1482FA" stroke-width="3.5"/>
<rect x="961.15" y="753.64" width="17.1" height="124.46" fill="#fff" stroke="#FF7F00" stroke-width="3.5"/>
<rect x="1017.75" y="723.76" width="17.5" height="154.34" fill="#fff" stroke="#1482FA" stroke-width="3.5"/>
<rect x="1052.05" y="741.94" width="17.4" height="136.16" fill="#fff" stroke="#FF7F00" stroke-width="3.5"/>
<circle cx="935.78" cy="656.21" r="2.6" fill="#1482FA"/>
<circle cx="935.78" cy="668.63" r="2.6" fill="#1482FA"/>
<circle cx="931.55" cy="683.54" r="2.6" fill="#1482FA"/>
<circle cx="939.75" cy="687.27" r="2.6" fill="#1482FA"/>
<circle cx="935.78" cy="696.46" r="2.6" fill="#1482FA"/>
<circle cx="931.55" cy="699.69" r="2.6" fill="#1482FA"/>
<circle cx="939.75" cy="701.43" r="2.6" fill="#1482FA"/>
<circle cx="931.55" cy="713.85" r="2.6" fill="#1482FA"/>
<circle cx="939.75" cy="715.09" r="2.6" fill="#1482FA"/>
<circle cx="931.55" cy="725.78" r="2.6" fill="#1482FA"/>
<circle cx="939.75" cy="725.78" r="2.6" fill="#1482FA"/>
<circle cx="935.78" cy="737.7" r="2.6" fill="#1482FA"/>
<circle cx="935.78" cy="753.6" r="2.6" fill="#1482FA"/>
<circle cx="1026.71" cy="678.07" r="2.6" fill="#1482FA"/>
<circle cx="1019.25" cy="699.69" r="2.6" fill="#1482FA"/>
<circle cx="1026.71" cy="699.69" r="2.6" fill="#1482FA"/>
<circle cx="1034.16" cy="696.46" r="2.6" fill="#1482FA"/>
<circle cx="1026.71" cy="708.39" r="2.6" fill="#1482FA"/>
<circle cx="1019.25" cy="715.09" r="2.6" fill="#1482FA"/>
<circle cx="1034.16" cy="718.82" r="2.6" fill="#1482FA"/>
<circle cx="1026.71" cy="725.78" r="2.6" fill="#1482FA"/>
<circle cx="1030.43" cy="732.48" r="2.6" fill="#1482FA"/>
<circle cx="1019.25" cy="732.48" r="2.6" fill="#1482FA"/>
<circle cx="1026.71" cy="752.61" r="2.6" fill="#1482FA"/>
<circle cx="1022.98" cy="759.32" r="2.6" fill="#1482FA"/>
<circle cx="1030.43" cy="765.53" r="2.6" fill="#1482FA"/>
<rect x="966.97" y="710.01" width="5.2" height="5.2" fill="#FF7F00"/>
<rect x="966.97" y="721.93" width="5.2" height="5.2" fill="#FF7F00"/>
<rect x="963.24" y="726.16" width="5.2" height="5.2" fill="#FF7F00"/>
<rect x="971.69" y="729.88" width="5.2" height="5.2" fill="#FF7F00"/>
<rect x="959.51" y="734.85" width="5.2" height="5.2" fill="#FF7F00"/>
<rect x="966.97" y="737.34" width="5.2" height="5.2" fill="#FF7F00"/>
<rect x="975.41" y="738.08" width="5.2" height="5.2" fill="#FF7F00"/>
<rect x="963.24" y="743.05" width="5.2" height="5.2" fill="#FF7F00"/>
<rect x="971.69" y="744.29" width="5.2" height="5.2" fill="#FF7F00"/>
<rect x="966.97" y="764.92" width="5.2" height="5.2" fill="#FF7F00"/>
<rect x="963.24" y="772.87" width="5.2" height="5.2" fill="#FF7F00"/>
<rect x="971.69" y="772.87" width="5.2" height="5.2" fill="#FF7F00"/>
<rect x="963.24" y="785.79" width="5.2" height="5.2" fill="#FF7F00"/>
<rect x="971.69" y="785.79" width="5.2" height="5.2" fill="#FF7F00"/>
<rect x="1056.41" y="687.9" width="5.2" height="5.2" fill="#FF7F00"/>
<rect x="1060.13" y="690.88" width="5.2" height="5.2" fill="#FF7F00"/>
<rect x="1058.15" y="700.82" width="5.2" height="5.2" fill="#FF7F00"/>
<rect x="1058.15" y="739.33" width="5.2" height="5.2" fill="#FF7F00"/>
<rect x="1056.41" y="744.29" width="5.2" height="5.2" fill="#FF7F00"/>
<rect x="1056.41" y="755.47" width="5.2" height="5.2" fill="#FF7F00"/>
<rect x="1060.13" y="760.94" width="5.2" height="5.2" fill="#FF7F00"/>
<rect x="1056.41" y="770.38" width="5.2" height="5.2" fill="#FF7F00"/>
<rect x="1060.13" y="772.87" width="5.2" height="5.2" fill="#FF7F00"/>
<line x1="935.9" y1="699.75" x2="935.9" y2="715.31" stroke="#000" stroke-width="2.4"/>
<line x1="928.9" y1="699.75" x2="942.9" y2="699.75" stroke="#000" stroke-width="2.4"/>
<line x1="928.9" y1="715.31" x2="942.9" y2="715.31" stroke="#000" stroke-width="2.4"/>
<line x1="969.7" y1="744.39" x2="969.7" y2="758.82" stroke="#000" stroke-width="2.4"/>
<line x1="962.7" y1="744.39" x2="976.7" y2="744.39" stroke="#000" stroke-width="2.4"/>
<line x1="962.7" y1="758.82" x2="976.7" y2="758.82" stroke="#000" stroke-width="2.4"/>
<line x1="1026.5" y1="713.95" x2="1026.5" y2="728.77" stroke="#000" stroke-width="2.4"/>
<line x1="1019.5" y1="713.95" x2="1033.5" y2="713.95" stroke="#000" stroke-width="2.4"/>
<line x1="1019.5" y1="728.77" x2="1033.5" y2="728.77" stroke="#000" stroke-width="2.4"/>
<line x1="1060.7" y1="732.52" x2="1060.7" y2="747.4" stroke="#000" stroke-width="2.4"/>
<line x1="1053.7" y1="732.52" x2="1067.7" y2="732.52" stroke="#000" stroke-width="2.4"/>
<line x1="1053.7" y1="747.4" x2="1067.7" y2="747.4" stroke="#000" stroke-width="2.4"/>
<line x1="913.4" y1="592.9" x2="913.4" y2="879.3" stroke="#000" stroke-width="2.4"/>
<line x1="904.4" y1="878.1" x2="913.4" y2="878.1" stroke="#000" stroke-width="2.4"/>
<text x="892.4" y="886.9" font-size="25.5" text-anchor="end">0</text>
<line x1="904.4" y1="821.3" x2="913.4" y2="821.3" stroke="#000" stroke-width="2.4"/>
<text x="892.4" y="830.1" font-size="25.5" text-anchor="end">100</text>
<line x1="904.4" y1="764.5" x2="913.4" y2="764.5" stroke="#000" stroke-width="2.4"/>
<text x="892.4" y="773.3" font-size="25.5" text-anchor="end">200</text>
<line x1="904.4" y1="707.7" x2="913.4" y2="707.7" stroke="#000" stroke-width="2.4"/>
<text x="892.4" y="716.5" font-size="25.5" text-anchor="end">300</text>
<line x1="904.4" y1="650.9" x2="913.4" y2="650.9" stroke="#000" stroke-width="2.4"/>
<text x="892.4" y="659.7" font-size="25.5" text-anchor="end">400</text>
<line x1="904.4" y1="594.1" x2="913.4" y2="594.1" stroke="#000" stroke-width="2.4"/>
<text x="892.4" y="602.9" font-size="25.5" text-anchor="end">500</text>
<line x1="904.2" y1="878.1" x2="1084.3" y2="878.1" stroke="#000" stroke-width="2.6"/>
<line x1="953.2" y1="878.1" x2="953.2" y2="887.6" stroke="#000" stroke-width="2.6"/>
<line x1="1043.4" y1="878.1" x2="1043.4" y2="887.6" stroke="#000" stroke-width="2.6"/>
<text x="953.2" y="925.3" font-size="25.6" text-anchor="middle">Ctrl</text>
<text x="1043.4" y="925.3" font-size="25.6" text-anchor="middle">MG<tspan font-size="17.28" dy="-12.8">4E</tspan></text>
<g fill="none" stroke="#000" stroke-width="2.2" stroke-linecap="round" stroke-linejoin="round"><circle cx="906.7" cy="548.2" r="11"/><path d="M911.2 537L919.4 518.7M906.3 525.3L919.4 518.7L923.1 533.2"/></g>
<line x1="932.8" y1="630.9" x2="971.3" y2="630.9" stroke="#231815" stroke-width="4.2"/>
<text x="954.05" y="632.9" font-size="40" text-anchor="middle" font-weight="bold" letter-spacing="2.1">***</text>
<line x1="1026.7" y1="630.9" x2="1065.2" y2="630.9" stroke="#231815" stroke-width="4.2"/>
<text x="1049" y="621" font-size="25" text-anchor="middle">n.s.</text>
<text x="825.4" y="735.5" font-size="25" text-anchor="middle" transform="rotate(-90 825.4 735.5)">Chamber time (s)</text>
<rect x="1350.75" y="742.96" width="17.5" height="135.14" fill="#fff" stroke="#1482FA" stroke-width="3.5"/>
<rect x="1384.25" y="796.35" width="17.6" height="81.75" fill="#fff" stroke="#FF7F00" stroke-width="3.5"/>
<rect x="1441.35" y="771.74" width="17.6" height="106.36" fill="#fff" stroke="#1482FA" stroke-width="3.5"/>
<rect x="1474.75" y="783.48" width="17.8" height="94.62" fill="#fff" stroke="#FF7F00" stroke-width="3.5"/>
<circle cx="1353.91" cy="695.47" r="2.6" fill="#1482FA"/>
<circle cx="1365.09" cy="697.7" r="2.6" fill="#1482FA"/>
<circle cx="1359.38" cy="707.14" r="2.6" fill="#1482FA"/>
<circle cx="1365.09" cy="719.57" r="2.6" fill="#1482FA"/>
<circle cx="1353.91" cy="722.8" r="2.6" fill="#1482FA"/>
<circle cx="1353.91" cy="728.26" r="2.6" fill="#1482FA"/>
<circle cx="1365.09" cy="733.23" r="2.6" fill="#1482FA"/>
<circle cx="1353.91" cy="745.65" r="2.6" fill="#1482FA"/>
<circle cx="1359.38" cy="752.61" r="2.6" fill="#1482FA"/>
<circle cx="1353.91" cy="760.56" r="2.6" fill="#1482FA"/>
<circle cx="1365.09" cy="766.02" r="2.6" fill="#1482FA"/>
<circle cx="1359.38" cy="770.5" r="2.6" fill="#1482FA"/>
<circle cx="1353.91" cy="774.97" r="2.6" fill="#1482FA"/>
<circle cx="1365.09" cy="774.97" r="2.6" fill="#1482FA"/>
<circle cx="1359.38" cy="785.4" r="2.6" fill="#1482FA"/>
<circle cx="1450.31" cy="703.91" r="2.6" fill="#1482FA"/>
<circle cx="1450.31" cy="716.34" r="2.6" fill="#1482FA"/>
<circle cx="1450.31" cy="743.66" r="2.6" fill="#1482FA"/>
<circle cx="1447.08" cy="770.5" r="2.6" fill="#1482FA"/>
<circle cx="1453.29" cy="772.98" r="2.6" fill="#1482FA"/>
<circle cx="1450.31" cy="782.92" r="2.6" fill="#1482FA"/>
<circle cx="1447.08" cy="786.65" r="2.6" fill="#1482FA"/>
<circle cx="1453.29" cy="786.65" r="2.6" fill="#1482FA"/>
<circle cx="1450.31" cy="792.11" r="2.6" fill="#1482FA"/>
<circle cx="1447.08" cy="792.36" r="2.6" fill="#1482FA"/>
<circle cx="1456.27" cy="794.1" r="2.6" fill="#1482FA"/>
<rect x="1390.57" y="731.87" width="5.2" height="5.2" fill="#FF7F00"/>
<rect x="1390.57" y="751.75" width="5.2" height="5.2" fill="#FF7F00"/>
<rect x="1390.57" y="772.12" width="5.2" height="5.2" fill="#FF7F00"/>
<rect x="1386.1" y="790.26" width="5.2" height="5.2" fill="#FF7F00"/>
<rect x="1394.79" y="791.5" width="5.2" height="5.2" fill="#FF7F00"/>
<rect x="1387.34" y="800.2" width="5.2" height="5.2" fill="#FF7F00"/>
<rect x="1394.79" y="800.2" width="5.2" height="5.2" fill="#FF7F00"/>
<rect x="1390.57" y="810.13" width="5.2" height="5.2" fill="#FF7F00"/>
<rect x="1390.57" y="823.8" width="5.2" height="5.2" fill="#FF7F00"/>
<rect x="1481.75" y="716.97" width="5.2" height="5.2" fill="#FF7F00"/>
<rect x="1481.75" y="733.11" width="5.2" height="5.2" fill="#FF7F00"/>
<rect x="1479.26" y="766.65" width="5.2" height="5.2" fill="#FF7F00"/>
<rect x="1481.75" y="772.87" width="5.2" height="5.2" fill="#FF7F00"/>
<rect x="1484.23" y="777.83" width="5.2" height="5.2" fill="#FF7F00"/>
<rect x="1479.26" y="782.8" width="5.2" height="5.2" fill="#FF7F00"/>
<rect x="1484.23" y="785.29" width="5.2" height="5.2" fill="#FF7F00"/>
<rect x="1481.75" y="791.5" width="5.2" height="5.2" fill="#FF7F00"/>
<rect x="1481.75" y="802.68" width="5.2" height="5.2" fill="#FF7F00"/>
<rect x="1481.75" y="812.62" width="5.2" height="5.2" fill="#FF7F00"/>
<rect x="1481.75" y="821.31" width="5.2" height="5.2" fill="#FF7F00"/>
<line x1="1359.5" y1="732.5" x2="1359.5" y2="748.6" stroke="#000" stroke-width="2.4"/>
<line x1="1352.5" y1="732.5" x2="1366.5" y2="732.5" stroke="#000" stroke-width="2.4"/>
<line x1="1352.5" y1="748.6" x2="1366.5" y2="748.6" stroke="#000" stroke-width="2.4"/>
<line x1="1393" y1="787.88" x2="1393" y2="801.04" stroke="#000" stroke-width="2.4"/>
<line x1="1386" y1="787.88" x2="1400" y2="787.88" stroke="#000" stroke-width="2.4"/>
<line x1="1386" y1="801.04" x2="1400" y2="801.04" stroke="#000" stroke-width="2.4"/>
<line x1="1450.1" y1="761.28" x2="1450.1" y2="777.47" stroke="#000" stroke-width="2.4"/>
<line x1="1443.1" y1="761.28" x2="1457.1" y2="761.28" stroke="#000" stroke-width="2.4"/>
<line x1="1443.1" y1="777.47" x2="1457.1" y2="777.47" stroke="#000" stroke-width="2.4"/>
<line x1="1483.6" y1="774.16" x2="1483.6" y2="788.64" stroke="#000" stroke-width="2.4"/>
<line x1="1476.6" y1="774.16" x2="1490.6" y2="774.16" stroke="#000" stroke-width="2.4"/>
<line x1="1476.6" y1="788.64" x2="1490.6" y2="788.64" stroke="#000" stroke-width="2.4"/>
<line x1="1336.5" y1="592.9" x2="1336.5" y2="879.3" stroke="#000" stroke-width="2.4"/>
<line x1="1327.5" y1="878.1" x2="1336.5" y2="878.1" stroke="#000" stroke-width="2.4"/>
<text x="1315.5" y="886.9" font-size="25.5" text-anchor="end">0</text>
<line x1="1327.5" y1="783.43" x2="1336.5" y2="783.43" stroke="#000" stroke-width="2.4"/>
<text x="1315.5" y="792.23" font-size="25.5" text-anchor="end">100</text>
<line x1="1327.5" y1="688.77" x2="1336.5" y2="688.77" stroke="#000" stroke-width="2.4"/>
<text x="1315.5" y="697.57" font-size="25.5" text-anchor="end">200</text>
<line x1="1327.5" y1="594.1" x2="1336.5" y2="594.1" stroke="#000" stroke-width="2.4"/>
<text x="1315.5" y="602.9" font-size="25.5" text-anchor="end">300</text>
<line x1="1327.3" y1="878.1" x2="1508" y2="878.1" stroke="#000" stroke-width="2.6"/>
<line x1="1377" y1="878.1" x2="1377" y2="887.6" stroke="#000" stroke-width="2.6"/>
<line x1="1467.5" y1="878.1" x2="1467.5" y2="887.6" stroke="#000" stroke-width="2.6"/>
<text x="1377" y="925.3" font-size="25.6" text-anchor="middle">Ctrl</text>
<text x="1467.5" y="925.3" font-size="25.6" text-anchor="middle">MG<tspan font-size="17.28" dy="-12.8">4E</tspan></text>
<g fill="none" stroke="#000" stroke-width="2.2" stroke-linecap="round" stroke-linejoin="round"><circle cx="1334.8" cy="548.2" r="11"/><path d="M1339.3 537L1347.5 518.7M1334.4 525.3L1347.5 518.7L1351.2 533.2"/></g>
<line x1="1355.7" y1="614" x2="1451.6" y2="614" stroke="#231815" stroke-width="4.2"/>
<text x="1405.85" y="619.2" font-size="40" text-anchor="middle" font-weight="bold" letter-spacing="2.1">**</text>
<line x1="1355.7" y1="658.7" x2="1393.7" y2="658.7" stroke="#231815" stroke-width="4.2"/>
<text x="1376.55" y="661.5" font-size="40" text-anchor="middle" font-weight="bold" letter-spacing="2.1">***</text>
<line x1="1450" y1="658.7" x2="1488" y2="658.7" stroke="#231815" stroke-width="4.2"/>
<text x="1470.7" y="648.7" font-size="25" text-anchor="middle">n.s.</text>
<text x="1246.4" y="736" font-size="25" text-anchor="middle" transform="rotate(-90 1246.4 736)">Social investigation (s)</text>
<rect x="1796.5" y="703.7" width="33.8" height="32" fill="#fff" stroke="#000" stroke-width="3"/>
<rect x="1855.5" y="729.85" width="34.4" height="5.85" fill="#A6A6AB" stroke="#000" stroke-width="3"/>
<circle cx="1812.92" cy="655.71" r="3.4" fill="#4F88D6"/>
<circle cx="1816.89" cy="671.86" r="3.4" fill="#4F88D6"/>
<circle cx="1809.44" cy="677.33" r="3.4" fill="#4F88D6"/>
<circle cx="1809.44" cy="693.48" r="3.4" fill="#4F88D6"/>
<circle cx="1816.89" cy="693.48" r="3.4" fill="#4F88D6"/>
<circle cx="1821.12" cy="702.17" r="3.4" fill="#4F88D6"/>
<circle cx="1812.92" cy="702.17" r="3.4" fill="#4F88D6"/>
<circle cx="1797.52" cy="709.63" r="3.4" fill="#4F88D6"/>
<circle cx="1805.71" cy="708.39" r="3.4" fill="#4F88D6"/>
<circle cx="1828.57" cy="706.65" r="3.4" fill="#4F88D6"/>
<circle cx="1801.74" cy="719.57" r="3.4" fill="#4F88D6"/>
<circle cx="1809.44" cy="720.31" r="3.4" fill="#4F88D6"/>
<circle cx="1816.89" cy="724.04" r="3.4" fill="#4F88D6"/>
<circle cx="1824.84" cy="728.26" r="3.4" fill="#4F88D6"/>
<rect x="1869.4" y="674.43" width="6.8" height="6.8" fill="#C40000"/>
<rect x="1854.99" y="698.28" width="6.8" height="6.8" fill="#C40000"/>
<rect x="1884.3" y="697.53" width="6.8" height="6.8" fill="#C40000"/>
<rect x="1864.43" y="705.73" width="6.8" height="6.8" fill="#C40000"/>
<rect x="1874.36" y="701.76" width="6.8" height="6.8" fill="#C40000"/>
<rect x="1859.46" y="726.1" width="6.8" height="6.8" fill="#C40000"/>
<rect x="1869.4" y="727.35" width="6.8" height="6.8" fill="#C40000"/>
<rect x="1879.33" y="728.09" width="6.8" height="6.8" fill="#C40000"/>
<rect x="1884.8" y="730.58" width="6.8" height="6.8" fill="#C40000"/>
<rect x="1854.99" y="734.8" width="6.8" height="6.8" fill="#C40000"/>
<rect x="1864.43" y="739.27" width="6.8" height="6.8" fill="#C40000"/>
<rect x="1874.36" y="739.27" width="6.8" height="6.8" fill="#C40000"/>
<rect x="1869.4" y="752.94" width="6.8" height="6.8" fill="#C40000"/>
<rect x="1869.4" y="774.05" width="6.8" height="6.8" fill="#C40000"/>
<line x1="1813.4" y1="695.06" x2="1813.4" y2="706.02" stroke="#000" stroke-width="2.4"/>
<line x1="1804.4" y1="695.06" x2="1822.4" y2="695.06" stroke="#000" stroke-width="2.4"/>
<line x1="1804.4" y1="706.02" x2="1822.4" y2="706.02" stroke="#000" stroke-width="2.4"/>
<line x1="1872.7" y1="719.99" x2="1872.7" y2="734.55" stroke="#000" stroke-width="2.4"/>
<line x1="1863.7" y1="719.99" x2="1881.7" y2="719.99" stroke="#000" stroke-width="2.4"/>
<line x1="1863.7" y1="734.55" x2="1881.7" y2="734.55" stroke="#000" stroke-width="2.4"/>
<line x1="1773.9" y1="590.4" x2="1773.9" y2="881" stroke="#000" stroke-width="2.4"/>
<line x1="1764.9" y1="879.8" x2="1773.9" y2="879.8" stroke="#000" stroke-width="2.4"/>
<text x="1752.9" y="888.6" font-size="25.5" text-anchor="end">−1.0</text>
<line x1="1764.9" y1="807.75" x2="1773.9" y2="807.75" stroke="#000" stroke-width="2.4"/>
<text x="1752.9" y="816.55" font-size="25.5" text-anchor="end">−0.5</text>
<line x1="1764.9" y1="735.7" x2="1773.9" y2="735.7" stroke="#000" stroke-width="2.4"/>
<text x="1752.9" y="744.5" font-size="25.5" text-anchor="end">0.0</text>
<line x1="1764.9" y1="663.65" x2="1773.9" y2="663.65" stroke="#000" stroke-width="2.4"/>
<text x="1752.9" y="672.45" font-size="25.5" text-anchor="end">0.5</text>
<line x1="1764.9" y1="591.6" x2="1773.9" y2="591.6" stroke="#000" stroke-width="2.4"/>
<text x="1752.9" y="600.4" font-size="25.5" text-anchor="end">1.0</text>
<line x1="1764" y1="879.8" x2="1913.5" y2="879.8" stroke="#000" stroke-width="2.6"/>
<line x1="1812.4" y1="879.8" x2="1812.4" y2="889.3" stroke="#000" stroke-width="2.6"/>
<line x1="1872.8" y1="879.8" x2="1872.8" y2="889.3" stroke="#000" stroke-width="2.6"/>
<line x1="1764" y1="735.7" x2="1912.5" y2="735.7" stroke="#000" stroke-width="2.4"/>
<text x="1812.4" y="925.3" font-size="25.6" text-anchor="middle">Ctrl</text>
<text x="1872.8" y="925.3" font-size="25.6" text-anchor="middle">MG<tspan font-size="17.28" dy="-12.8">4E</tspan></text>
<g fill="none" stroke="#000" stroke-width="2.2" stroke-linecap="round" stroke-linejoin="round"><circle cx="1757.5" cy="548" r="11"/><path d="M1762 536.8L1770.2 518.5M1757.1 525.1L1770.2 518.5L1773.9 533"/></g>
<line x1="1810" y1="630" x2="1874.5" y2="630" stroke="#231815" stroke-width="4.2"/>
<text x="1842.05" y="626.7" font-size="40" text-anchor="middle" font-weight="bold" letter-spacing="2.1">**</text>
<text x="1677.7" y="735" font-size="25" text-anchor="middle" transform="rotate(-90 1677.7 735)">Social preference index</text>
<text x="-1" y="997.3" font-size="42" font-weight="bold">e</text>
<rect x="284.55" y="1024.35" width="26.1" height="26.9" fill="#fff" stroke="#1482FA" stroke-width="4.7"/>
<text x="321" y="1046.6" font-size="21">Mouse</text>
<rect x="436.35" y="1024.35" width="26" height="26.9" fill="#fff" stroke="#FF7F00" stroke-width="4.7"/>
<text x="472.6" y="1046.6" font-size="21">Object</text>
<rect x="134.45" y="1281.36" width="16.9" height="160.64" fill="#fff" stroke="#1482FA" stroke-width="3.5"/>
<rect x="168.75" y="1308.25" width="16.7" height="133.75" fill="#fff" stroke="#FF7F00" stroke-width="3.5"/>
<rect x="226.15" y="1273.36" width="16.6" height="168.64" fill="#fff" stroke="#1482FA" stroke-width="3.5"/>
<rect x="260.25" y="1322.26" width="16.6" height="119.74" fill="#fff" stroke="#FF7F00" stroke-width="3.5"/>
<circle cx="143.35" cy="1226.03" r="2.2" fill="#1482FA"/>
<circle cx="140.28" cy="1235.81" r="2.2" fill="#1482FA"/>
<circle cx="146.71" cy="1235.25" r="2.2" fill="#1482FA"/>
<circle cx="140.28" cy="1253.97" r="2.2" fill="#1482FA"/>
<circle cx="146.71" cy="1255.37" r="2.2" fill="#1482FA"/>
<circle cx="134.69" cy="1264.59" r="2.2" fill="#1482FA"/>
<circle cx="140.28" cy="1268.78" r="2.2" fill="#1482FA"/>
<circle cx="146.71" cy="1267.38" r="2.2" fill="#1482FA"/>
<circle cx="152.29" cy="1270.18" r="2.2" fill="#1482FA"/>
<circle cx="136.93" cy="1274.37" r="2.2" fill="#1482FA"/>
<circle cx="149.5" cy="1277.16" r="2.2" fill="#1482FA"/>
<circle cx="143.35" cy="1280.52" r="2.2" fill="#1482FA"/>
<circle cx="136.93" cy="1284.15" r="2.2" fill="#1482FA"/>
<circle cx="146.71" cy="1284.15" r="2.2" fill="#1482FA"/>
<circle cx="143.35" cy="1291.14" r="2.2" fill="#1482FA"/>
<circle cx="136.93" cy="1298.12" r="2.2" fill="#1482FA"/>
<circle cx="149.5" cy="1298.96" r="2.2" fill="#1482FA"/>
<circle cx="143.35" cy="1305.11" r="2.2" fill="#1482FA"/>
<circle cx="143.35" cy="1314.33" r="2.2" fill="#1482FA"/>
<circle cx="139.16" cy="1338.64" r="2.2" fill="#1482FA"/>
<circle cx="145.31" cy="1342.83" r="2.2" fill="#1482FA"/>
<circle cx="234.17" cy="1213.73" r="2.2" fill="#1482FA"/>
<circle cx="231.38" cy="1221.28" r="2.2" fill="#1482FA"/>
<circle cx="236.96" cy="1229.66" r="2.2" fill="#1482FA"/>
<circle cx="234.17" cy="1235.25" r="2.2" fill="#1482FA"/>
<circle cx="236.96" cy="1240.84" r="2.2" fill="#1482FA"/>
<circle cx="234.17" cy="1250.62" r="2.2" fill="#1482FA"/>
<circle cx="225.79" cy="1252.01" r="2.2" fill="#1482FA"/>
<circle cx="231.38" cy="1252.01" r="2.2" fill="#1482FA"/>
<circle cx="242.55" cy="1250.62" r="2.2" fill="#1482FA"/>
<circle cx="236.96" cy="1256.21" r="2.2" fill="#1482FA"/>
<circle cx="229.98" cy="1267.38" r="2.2" fill="#1482FA"/>
<circle cx="234.17" cy="1274.93" r="2.2" fill="#1482FA"/>
<circle cx="231.38" cy="1285.55" r="2.2" fill="#1482FA"/>
<circle cx="236.96" cy="1292.53" r="2.2" fill="#1482FA"/>
<circle cx="238.36" cy="1298.12" r="2.2" fill="#1482FA"/>
<circle cx="229.98" cy="1299.52" r="2.2" fill="#1482FA"/>
<circle cx="234.17" cy="1302.31" r="2.2" fill="#1482FA"/>
<circle cx="234.17" cy="1333.05" r="2.2" fill="#1482FA"/>
<circle cx="234.17" cy="1345.63" r="2.2" fill="#1482FA"/>
<circle cx="234.17" cy="1360.99" r="2.2" fill="#1482FA"/>
<rect x="174.68" y="1233.61" width="4.4" height="4.4" fill="#FF7F00"/>
<rect x="174.68" y="1269.37" width="4.4" height="4.4" fill="#FF7F00"/>
<rect x="171.05" y="1274.12" width="4.4" height="4.4" fill="#FF7F00"/>
<rect x="178.88" y="1276.36" width="4.4" height="4.4" fill="#FF7F00"/>
<rect x="170.49" y="1289.49" width="4.4" height="4.4" fill="#FF7F00"/>
<rect x="176.64" y="1292.29" width="4.4" height="4.4" fill="#FF7F00"/>
<rect x="174.68" y="1295.92" width="4.4" height="4.4" fill="#FF7F00"/>
<rect x="180.83" y="1299.27" width="4.4" height="4.4" fill="#FF7F00"/>
<rect x="168.26" y="1297.32" width="4.4" height="4.4" fill="#FF7F00"/>
<rect x="172.45" y="1301.51" width="4.4" height="4.4" fill="#FF7F00"/>
<rect x="176.64" y="1307.1" width="4.4" height="4.4" fill="#FF7F00"/>
<rect x="171.05" y="1318.28" width="4.4" height="4.4" fill="#FF7F00"/>
<rect x="176.64" y="1319.11" width="4.4" height="4.4" fill="#FF7F00"/>
<rect x="172.45" y="1333.65" width="4.4" height="4.4" fill="#FF7F00"/>
<rect x="176.64" y="1337.28" width="4.4" height="4.4" fill="#FF7F00"/>
<rect x="174.68" y="1346.22" width="4.4" height="4.4" fill="#FF7F00"/>
<rect x="174.68" y="1389.53" width="4.4" height="4.4" fill="#FF7F00"/>
<rect x="266.9" y="1228.86" width="4.4" height="4.4" fill="#FF7F00"/>
<rect x="264.11" y="1233.61" width="4.4" height="4.4" fill="#FF7F00"/>
<rect x="264.66" y="1267.98" width="4.4" height="4.4" fill="#FF7F00"/>
<rect x="267.46" y="1272.73" width="4.4" height="4.4" fill="#FF7F00"/>
<rect x="266.9" y="1281.39" width="4.4" height="4.4" fill="#FF7F00"/>
<rect x="264.66" y="1283.35" width="4.4" height="4.4" fill="#FF7F00"/>
<rect x="266.9" y="1299.27" width="4.4" height="4.4" fill="#FF7F00"/>
<rect x="264.11" y="1308.5" width="4.4" height="4.4" fill="#FF7F00"/>
<rect x="266.9" y="1314.92" width="4.4" height="4.4" fill="#FF7F00"/>
<rect x="268.86" y="1323.86" width="4.4" height="4.4" fill="#FF7F00"/>
<rect x="264.66" y="1329.45" width="4.4" height="4.4" fill="#FF7F00"/>
<rect x="268.86" y="1333.65" width="4.4" height="4.4" fill="#FF7F00"/>
<rect x="261.31" y="1335.04" width="4.4" height="4.4" fill="#FF7F00"/>
<rect x="270.25" y="1337.84" width="4.4" height="4.4" fill="#FF7F00"/>
<rect x="261.87" y="1343.43" width="4.4" height="4.4" fill="#FF7F00"/>
<rect x="273.05" y="1343.43" width="4.4" height="4.4" fill="#FF7F00"/>
<rect x="266.9" y="1347.62" width="4.4" height="4.4" fill="#FF7F00"/>
<rect x="264.66" y="1351.81" width="4.4" height="4.4" fill="#FF7F00"/>
<rect x="266.9" y="1356" width="4.4" height="4.4" fill="#FF7F00"/>
<rect x="261.87" y="1358.79" width="4.4" height="4.4" fill="#FF7F00"/>
<rect x="268.86" y="1363.55" width="4.4" height="4.4" fill="#FF7F00"/>
<line x1="143" y1="1273.37" x2="143" y2="1286.3" stroke="#000" stroke-width="2.4"/>
<line x1="136.75" y1="1273.37" x2="149.25" y2="1273.37" stroke="#000" stroke-width="2.4"/>
<line x1="136.75" y1="1286.3" x2="149.25" y2="1286.3" stroke="#000" stroke-width="2.4"/>
<line x1="177.1" y1="1298.73" x2="177.1" y2="1312.68" stroke="#000" stroke-width="2.4"/>
<line x1="170.85" y1="1298.73" x2="183.35" y2="1298.73" stroke="#000" stroke-width="2.4"/>
<line x1="170.85" y1="1312.68" x2="183.35" y2="1312.68" stroke="#000" stroke-width="2.4"/>
<line x1="234.5" y1="1263.22" x2="234.5" y2="1278.59" stroke="#000" stroke-width="2.4"/>
<line x1="228.25" y1="1263.22" x2="240.75" y2="1263.22" stroke="#000" stroke-width="2.4"/>
<line x1="228.25" y1="1278.59" x2="240.75" y2="1278.59" stroke="#000" stroke-width="2.4"/>
<line x1="268.6" y1="1311.54" x2="268.6" y2="1326.01" stroke="#000" stroke-width="2.4"/>
<line x1="262.35" y1="1311.54" x2="274.85" y2="1311.54" stroke="#000" stroke-width="2.4"/>
<line x1="262.35" y1="1326.01" x2="274.85" y2="1326.01" stroke="#000" stroke-width="2.4"/>
<line x1="120.7" y1="1157.2" x2="120.7" y2="1443.2" stroke="#000" stroke-width="2.4"/>
<line x1="111.7" y1="1442" x2="120.7" y2="1442" stroke="#000" stroke-width="2.4"/>
<text x="99.7" y="1450.8" font-size="25.5" text-anchor="end">0</text>
<line x1="111.7" y1="1385.28" x2="120.7" y2="1385.28" stroke="#000" stroke-width="2.4"/>
<text x="99.7" y="1394.08" font-size="25.5" text-anchor="end">100</text>
<line x1="111.7" y1="1328.56" x2="120.7" y2="1328.56" stroke="#000" stroke-width="2.4"/>
<text x="99.7" y="1337.36" font-size="25.5" text-anchor="end">200</text>
<line x1="111.7" y1="1271.84" x2="120.7" y2="1271.84" stroke="#000" stroke-width="2.4"/>
<text x="99.7" y="1280.64" font-size="25.5" text-anchor="end">300</text>
<line x1="111.7" y1="1215.12" x2="120.7" y2="1215.12" stroke="#000" stroke-width="2.4"/>
<text x="99.7" y="1223.92" font-size="25.5" text-anchor="end">400</text>
<line x1="111.7" y1="1158.4" x2="120.7" y2="1158.4" stroke="#000" stroke-width="2.4"/>
<text x="99.7" y="1167.2" font-size="25.5" text-anchor="end">500</text>
<line x1="111.2" y1="1442" x2="291.5" y2="1442" stroke="#000" stroke-width="2.6"/>
<line x1="160.1" y1="1442" x2="160.1" y2="1451.5" stroke="#000" stroke-width="2.6"/>
<line x1="251" y1="1442" x2="251" y2="1451.5" stroke="#000" stroke-width="2.6"/>
<text x="160.1" y="1488.7" font-size="25.6" text-anchor="middle">Ctrl</text>
<text x="251" y="1488.7" font-size="25.6" text-anchor="middle">MG<tspan font-size="17.28" dy="-12.8">4E</tspan></text>
<g fill="none" stroke="#000" stroke-width="2.2"><circle cx="114.2" cy="1105.8" r="11.1"/><path d="M114.2 1116.9L114.2 1137.8M102.5 1127.4L125.9 1127.4"/></g>
<line x1="140.3" y1="1152.3" x2="236.7" y2="1152.3" stroke="#231815" stroke-width="4.2"/>
<text x="191.4" y="1141.6" font-size="25" text-anchor="middle">n.s.</text>
<line x1="140.3" y1="1197" x2="178.8" y2="1197" stroke="#231815" stroke-width="4.2"/>
<text x="159.3" y="1200" font-size="40" text-anchor="middle" font-weight="bold">*</text>
<line x1="234.2" y1="1197" x2="273" y2="1197" stroke="#231815" stroke-width="4.2"/>
<text x="257.55" y="1200" font-size="40" text-anchor="middle" font-weight="bold" letter-spacing="2.1">***</text>
<text x="30.1" y="1299.5" font-size="25" text-anchor="middle" transform="rotate(-90 30.1 1299.5)">Chamber time (s)</text>
<rect x="565.65" y="1315.28" width="17.5" height="126.72" fill="#fff" stroke="#1482FA" stroke-width="3.5"/>
<rect x="600.05" y="1347.33" width="17.2" height="94.67" fill="#fff" stroke="#FF7F00" stroke-width="3.5"/>
<rect x="656.45" y="1323.03" width="17.5" height="118.97" fill="#fff" stroke="#1482FA" stroke-width="3.5"/>
<rect x="690.55" y="1353" width="17.5" height="89" fill="#fff" stroke="#FF7F00" stroke-width="3.5"/>
<circle cx="574.25" cy="1238.88" r="2.2" fill="#1482FA"/>
<circle cx="574.25" cy="1254.25" r="2.2" fill="#1482FA"/>
<circle cx="574.25" cy="1274.93" r="2.2" fill="#1482FA"/>
<circle cx="568.66" cy="1283.31" r="2.2" fill="#1482FA"/>
<circle cx="574.25" cy="1281.35" r="2.2" fill="#1482FA"/>
<circle cx="579.84" cy="1284.15" r="2.2" fill="#1482FA"/>
<circle cx="568.66" cy="1291.69" r="2.2" fill="#1482FA"/>
<circle cx="574.25" cy="1291.69" r="2.2" fill="#1482FA"/>
<circle cx="579.84" cy="1298.12" r="2.2" fill="#1482FA"/>
<circle cx="568.66" cy="1301.47" r="2.2" fill="#1482FA"/>
<circle cx="574.25" cy="1305.67" r="2.2" fill="#1482FA"/>
<circle cx="568.66" cy="1309.3" r="2.2" fill="#1482FA"/>
<circle cx="579.84" cy="1314.89" r="2.2" fill="#1482FA"/>
<circle cx="574.25" cy="1323.27" r="2.2" fill="#1482FA"/>
<circle cx="579.84" cy="1324.67" r="2.2" fill="#1482FA"/>
<circle cx="568.66" cy="1330.26" r="2.2" fill="#1482FA"/>
<circle cx="574.25" cy="1339.2" r="2.2" fill="#1482FA"/>
<circle cx="579.84" cy="1337.8" r="2.2" fill="#1482FA"/>
<circle cx="571.46" cy="1341.99" r="2.2" fill="#1482FA"/>
<circle cx="577.04" cy="1347.02" r="2.2" fill="#1482FA"/>
<circle cx="571.46" cy="1377.76" r="2.2" fill="#1482FA"/>
<circle cx="577.04" cy="1381.95" r="2.2" fill="#1482FA"/>
<circle cx="665.35" cy="1231.06" r="2.2" fill="#1482FA"/>
<circle cx="662.55" cy="1254.81" r="2.2" fill="#1482FA"/>
<circle cx="668.14" cy="1258.16" r="2.2" fill="#1482FA"/>
<circle cx="662.55" cy="1272.97" r="2.2" fill="#1482FA"/>
<circle cx="668.14" cy="1278.56" r="2.2" fill="#1482FA"/>
<circle cx="665.35" cy="1289.18" r="2.2" fill="#1482FA"/>
<circle cx="662.55" cy="1295.33" r="2.2" fill="#1482FA"/>
<circle cx="656.96" cy="1298.12" r="2.2" fill="#1482FA"/>
<circle cx="673.73" cy="1297.28" r="2.2" fill="#1482FA"/>
<circle cx="668.14" cy="1301.47" r="2.2" fill="#1482FA"/>
<circle cx="662.55" cy="1307.9" r="2.2" fill="#1482FA"/>
<circle cx="670.94" cy="1310.7" r="2.2" fill="#1482FA"/>
<circle cx="665.35" cy="1317.12" r="2.2" fill="#1482FA"/>
<circle cx="665.35" cy="1347.02" r="2.2" fill="#1482FA"/>
<circle cx="659.76" cy="1352.61" r="2.2" fill="#1482FA"/>
<circle cx="670.94" cy="1352.61" r="2.2" fill="#1482FA"/>
<circle cx="665.35" cy="1356.8" r="2.2" fill="#1482FA"/>
<circle cx="659.76" cy="1362.39" r="2.2" fill="#1482FA"/>
<circle cx="665.35" cy="1362.39" r="2.2" fill="#1482FA"/>
<circle cx="670.94" cy="1359.6" r="2.2" fill="#1482FA"/>
<circle cx="662.55" cy="1369.38" r="2.2" fill="#1482FA"/>
<circle cx="668.14" cy="1376.36" r="2.2" fill="#1482FA"/>
<circle cx="665.35" cy="1391.73" r="2.2" fill="#1482FA"/>
<rect x="603.63" y="1310.73" width="4.4" height="4.4" fill="#FF7F00"/>
<rect x="607.82" y="1314.92" width="4.4" height="4.4" fill="#FF7F00"/>
<rect x="610.61" y="1319.67" width="4.4" height="4.4" fill="#FF7F00"/>
<rect x="598.04" y="1322.47" width="4.4" height="4.4" fill="#FF7F00"/>
<rect x="613.97" y="1323.86" width="4.4" height="4.4" fill="#FF7F00"/>
<rect x="602.23" y="1328.06" width="4.4" height="4.4" fill="#FF7F00"/>
<rect x="607.82" y="1330.29" width="4.4" height="4.4" fill="#FF7F00"/>
<rect x="605.58" y="1335.04" width="4.4" height="4.4" fill="#FF7F00"/>
<rect x="598.04" y="1339.23" width="4.4" height="4.4" fill="#FF7F00"/>
<rect x="612.01" y="1342.03" width="4.4" height="4.4" fill="#FF7F00"/>
<rect x="600.83" y="1346.22" width="4.4" height="4.4" fill="#FF7F00"/>
<rect x="613.41" y="1349.85" width="4.4" height="4.4" fill="#FF7F00"/>
<rect x="598.04" y="1353.21" width="4.4" height="4.4" fill="#FF7F00"/>
<rect x="609.22" y="1355.16" width="4.4" height="4.4" fill="#FF7F00"/>
<rect x="603.63" y="1358.79" width="4.4" height="4.4" fill="#FF7F00"/>
<rect x="600.83" y="1362.99" width="4.4" height="4.4" fill="#FF7F00"/>
<rect x="610.61" y="1365.78" width="4.4" height="4.4" fill="#FF7F00"/>
<rect x="606.42" y="1371.93" width="4.4" height="4.4" fill="#FF7F00"/>
<rect x="606.42" y="1381.99" width="4.4" height="4.4" fill="#FF7F00"/>
<rect x="696.68" y="1202.31" width="4.4" height="4.4" fill="#FF7F00"/>
<rect x="696.68" y="1286.14" width="4.4" height="4.4" fill="#FF7F00"/>
<rect x="695.28" y="1294.52" width="4.4" height="4.4" fill="#FF7F00"/>
<rect x="699.47" y="1299.27" width="4.4" height="4.4" fill="#FF7F00"/>
<rect x="696.68" y="1314.08" width="4.4" height="4.4" fill="#FF7F00"/>
<rect x="696.68" y="1321.07" width="4.4" height="4.4" fill="#FF7F00"/>
<rect x="693.89" y="1350.97" width="4.4" height="4.4" fill="#FF7F00"/>
<rect x="699.47" y="1351.81" width="4.4" height="4.4" fill="#FF7F00"/>
<rect x="691.09" y="1362.99" width="4.4" height="4.4" fill="#FF7F00"/>
<rect x="696.68" y="1365.78" width="4.4" height="4.4" fill="#FF7F00"/>
<rect x="702.27" y="1368.58" width="4.4" height="4.4" fill="#FF7F00"/>
<rect x="691.09" y="1372.21" width="4.4" height="4.4" fill="#FF7F00"/>
<rect x="699.47" y="1372.77" width="4.4" height="4.4" fill="#FF7F00"/>
<rect x="693.89" y="1376.96" width="4.4" height="4.4" fill="#FF7F00"/>
<rect x="702.27" y="1378.36" width="4.4" height="4.4" fill="#FF7F00"/>
<rect x="693.89" y="1382.55" width="4.4" height="4.4" fill="#FF7F00"/>
<rect x="699.47" y="1383.94" width="4.4" height="4.4" fill="#FF7F00"/>
<rect x="696.68" y="1390.93" width="4.4" height="4.4" fill="#FF7F00"/>
<rect x="693.89" y="1391.77" width="4.4" height="4.4" fill="#FF7F00"/>
<line x1="574.4" y1="1305.21" x2="574.4" y2="1320.62" stroke="#000" stroke-width="2.4"/>
<line x1="568.15" y1="1305.21" x2="580.65" y2="1305.21" stroke="#000" stroke-width="2.4"/>
<line x1="568.15" y1="1320.62" x2="580.65" y2="1320.62" stroke="#000" stroke-width="2.4"/>
<line x1="608.6" y1="1341.42" x2="608.6" y2="1349.74" stroke="#000" stroke-width="2.4"/>
<line x1="602.35" y1="1341.42" x2="614.85" y2="1341.42" stroke="#000" stroke-width="2.4"/>
<line x1="602.35" y1="1349.74" x2="614.85" y2="1349.74" stroke="#000" stroke-width="2.4"/>
<line x1="665.2" y1="1312.68" x2="665.2" y2="1328.94" stroke="#000" stroke-width="2.4"/>
<line x1="658.95" y1="1312.68" x2="671.45" y2="1312.68" stroke="#000" stroke-width="2.4"/>
<line x1="658.95" y1="1328.94" x2="671.45" y2="1328.94" stroke="#000" stroke-width="2.4"/>
<line x1="699.3" y1="1342.27" x2="699.3" y2="1359.47" stroke="#000" stroke-width="2.4"/>
<line x1="693.05" y1="1342.27" x2="705.55" y2="1342.27" stroke="#000" stroke-width="2.4"/>
<line x1="693.05" y1="1359.47" x2="705.55" y2="1359.47" stroke="#000" stroke-width="2.4"/>
<line x1="551.3" y1="1157.2" x2="551.3" y2="1443.2" stroke="#000" stroke-width="2.4"/>
<line x1="542.3" y1="1442" x2="551.3" y2="1442" stroke="#000" stroke-width="2.4"/>
<text x="530.3" y="1450.8" font-size="25.5" text-anchor="end">0</text>
<line x1="542.3" y1="1347.47" x2="551.3" y2="1347.47" stroke="#000" stroke-width="2.4"/>
<text x="530.3" y="1356.27" font-size="25.5" text-anchor="end">100</text>
<line x1="542.3" y1="1252.93" x2="551.3" y2="1252.93" stroke="#000" stroke-width="2.4"/>
<text x="530.3" y="1261.73" font-size="25.5" text-anchor="end">200</text>
<line x1="542.3" y1="1158.4" x2="551.3" y2="1158.4" stroke="#000" stroke-width="2.4"/>
<text x="530.3" y="1167.2" font-size="25.5" text-anchor="end">300</text>
<line x1="542.4" y1="1442" x2="722.6" y2="1442" stroke="#000" stroke-width="2.6"/>
<line x1="591.3" y1="1442" x2="591.3" y2="1451.5" stroke="#000" stroke-width="2.6"/>
<line x1="682.1" y1="1442" x2="682.1" y2="1451.5" stroke="#000" stroke-width="2.6"/>
<text x="591.3" y="1488.7" font-size="25.6" text-anchor="middle">Ctrl</text>
<text x="682.1" y="1488.7" font-size="25.6" text-anchor="middle">MG<tspan font-size="17.28" dy="-12.8">4E</tspan></text>
<g fill="none" stroke="#000" stroke-width="2.2"><circle cx="543.1" cy="1105.8" r="11.1"/><path d="M543.1 1116.9L543.1 1137.8M531.4 1127.4L554.8 1127.4"/></g>
<line x1="570.9" y1="1147.8" x2="666.7" y2="1147.8" stroke="#231815" stroke-width="4.2"/>
<text x="622.6" y="1136.6" font-size="25" text-anchor="middle">n.s.</text>
<line x1="571.5" y1="1192" x2="609.5" y2="1192" stroke="#231815" stroke-width="4.2"/>
<text x="589.55" y="1194.4" font-size="40" text-anchor="middle" font-weight="bold" letter-spacing="2.1">**</text>
<line x1="665.3" y1="1192" x2="703.6" y2="1192" stroke="#231815" stroke-width="4.2"/>
<text x="683.15" y="1194.4" font-size="40" text-anchor="middle" font-weight="bold" letter-spacing="2.1">**</text>
<text x="462.7" y="1300" font-size="25" text-anchor="middle" transform="rotate(-90 462.7 1300)">Social investigation (s)</text>
<rect x="1020.9" y="1284.8" width="34.7" height="14.7" fill="#fff" stroke="#000" stroke-width="3"/>
<rect x="1080.4" y="1281.5" width="34.1" height="18" fill="#A6A6AB" stroke="#000" stroke-width="3"/>
<circle cx="1034.77" cy="1236.09" r="3" fill="#4F88D6"/>
<circle cx="1040.64" cy="1239.44" r="3" fill="#4F88D6"/>
<circle cx="1028.62" cy="1257.04" r="3" fill="#4F88D6"/>
<circle cx="1034.77" cy="1253.41" r="3" fill="#4F88D6"/>
<circle cx="1040.64" cy="1252.57" r="3" fill="#4F88D6"/>
<circle cx="1047.06" cy="1254.81" r="3" fill="#4F88D6"/>
<circle cx="1034.77" cy="1261.79" r="3" fill="#4F88D6"/>
<circle cx="1040.64" cy="1268.22" r="3" fill="#4F88D6"/>
<circle cx="1028.62" cy="1277.72" r="3" fill="#4F88D6"/>
<circle cx="1034.77" cy="1275.77" r="3" fill="#4F88D6"/>
<circle cx="1040.64" cy="1275.21" r="3" fill="#4F88D6"/>
<circle cx="1047.06" cy="1279.12" r="3" fill="#4F88D6"/>
<circle cx="1034.77" cy="1283.31" r="3" fill="#4F88D6"/>
<circle cx="1040.64" cy="1284.15" r="3" fill="#4F88D6"/>
<circle cx="1022.47" cy="1295.33" r="3" fill="#4F88D6"/>
<circle cx="1028.62" cy="1291.14" r="3" fill="#4F88D6"/>
<circle cx="1034.77" cy="1292.53" r="3" fill="#4F88D6"/>
<circle cx="1047.06" cy="1293.09" r="3" fill="#4F88D6"/>
<circle cx="1052.93" cy="1294.49" r="3" fill="#4F88D6"/>
<circle cx="1028.62" cy="1309.3" r="3" fill="#4F88D6"/>
<circle cx="1034.77" cy="1312.65" r="3" fill="#4F88D6"/>
<circle cx="1040.64" cy="1315.73" r="3" fill="#4F88D6"/>
<circle cx="1047.06" cy="1317.12" r="3" fill="#4F88D6"/>
<circle cx="1037.56" cy="1330.82" r="3" fill="#4F88D6"/>
<rect x="1096.88" y="1222.47" width="6" height="6" fill="#C40000"/>
<rect x="1091.29" y="1231.41" width="6" height="6" fill="#C40000"/>
<rect x="1091.29" y="1235.88" width="6" height="6" fill="#C40000"/>
<rect x="1096.88" y="1244.82" width="6" height="6" fill="#C40000"/>
<rect x="1099.67" y="1247.62" width="6" height="6" fill="#C40000"/>
<rect x="1087.1" y="1250.97" width="6" height="6" fill="#C40000"/>
<rect x="1093.52" y="1250.41" width="6" height="6" fill="#C40000"/>
<rect x="1083.47" y="1256.84" width="6" height="6" fill="#C40000"/>
<rect x="1104.7" y="1256" width="6" height="6" fill="#C40000"/>
<rect x="1086.54" y="1266.34" width="6" height="6" fill="#C40000"/>
<rect x="1093.52" y="1270.53" width="6" height="6" fill="#C40000"/>
<rect x="1099.67" y="1275.56" width="6" height="6" fill="#C40000"/>
<rect x="1091.29" y="1282.55" width="6" height="6" fill="#C40000"/>
<rect x="1096.88" y="1283.94" width="6" height="6" fill="#C40000"/>
<rect x="1101.07" y="1288.97" width="6" height="6" fill="#C40000"/>
<rect x="1108.06" y="1290.93" width="6" height="6" fill="#C40000"/>
<rect x="1089.89" y="1288.14" width="6" height="6" fill="#C40000"/>
<rect x="1077.88" y="1296.52" width="6" height="6" fill="#C40000"/>
<rect x="1083.47" y="1297.36" width="6" height="6" fill="#C40000"/>
<rect x="1088.49" y="1297.92" width="6" height="6" fill="#C40000"/>
<rect x="1094.08" y="1336.48" width="6" height="6" fill="#C40000"/>
<rect x="1094.08" y="1369.17" width="6" height="6" fill="#C40000"/>
<line x1="1038.3" y1="1275.76" x2="1038.3" y2="1287.56" stroke="#000" stroke-width="2.4"/>
<line x1="1028.5" y1="1275.76" x2="1048.1" y2="1275.76" stroke="#000" stroke-width="2.4"/>
<line x1="1028.5" y1="1287.56" x2="1048.1" y2="1287.56" stroke="#000" stroke-width="2.4"/>
<line x1="1097.4" y1="1272.45" x2="1097.4" y2="1284.68" stroke="#000" stroke-width="2.4"/>
<line x1="1087.6" y1="1272.45" x2="1107.2" y2="1272.45" stroke="#000" stroke-width="2.4"/>
<line x1="1087.6" y1="1284.68" x2="1107.2" y2="1284.68" stroke="#000" stroke-width="2.4"/>
<line x1="998.7" y1="1154.4" x2="998.7" y2="1444.6" stroke="#000" stroke-width="2.4"/>
<line x1="989.7" y1="1443.4" x2="998.7" y2="1443.4" stroke="#000" stroke-width="2.4"/>
<text x="977.7" y="1452.2" font-size="25.5" text-anchor="end">−1.0</text>
<line x1="989.7" y1="1371.45" x2="998.7" y2="1371.45" stroke="#000" stroke-width="2.4"/>
<text x="977.7" y="1380.25" font-size="25.5" text-anchor="end">−0.5</text>
<line x1="989.7" y1="1299.5" x2="998.7" y2="1299.5" stroke="#000" stroke-width="2.4"/>
<text x="977.7" y="1308.3" font-size="25.5" text-anchor="end">0.0</text>
<line x1="989.7" y1="1227.55" x2="998.7" y2="1227.55" stroke="#000" stroke-width="2.4"/>
<text x="977.7" y="1236.35" font-size="25.5" text-anchor="end">0.5</text>
<line x1="989.7" y1="1155.6" x2="998.7" y2="1155.6" stroke="#000" stroke-width="2.4"/>
<text x="977.7" y="1164.4" font-size="25.5" text-anchor="end">1.0</text>
<line x1="988.9" y1="1443.4" x2="1137.6" y2="1443.4" stroke="#000" stroke-width="2.6"/>
<line x1="1037.8" y1="1443.4" x2="1037.8" y2="1452.9" stroke="#000" stroke-width="2.6"/>
<line x1="1097.1" y1="1443.4" x2="1097.1" y2="1452.9" stroke="#000" stroke-width="2.6"/>
<line x1="988.9" y1="1299.5" x2="1136" y2="1299.5" stroke="#000" stroke-width="2.4"/>
<text x="1037.8" y="1488.7" font-size="25.6" text-anchor="middle">Ctrl</text>
<text x="1097.1" y="1488.7" font-size="25.6" text-anchor="middle">MG<tspan font-size="17.28" dy="-12.8">4E</tspan></text>
<g fill="none" stroke="#000" stroke-width="2.2"><circle cx="991.1" cy="1105.8" r="11.1"/><path d="M991.1 1116.9L991.1 1137.8M979.4 1127.4L1002.8 1127.4"/></g>
<line x1="1039" y1="1200.3" x2="1102.7" y2="1200.3" stroke="#231815" stroke-width="4.2"/>
<text x="1072.8" y="1187.7" font-size="25" text-anchor="middle">n.s.</text>
<text x="903.7" y="1299.5" font-size="25" text-anchor="middle" transform="rotate(-90 903.7 1299.5)">Social preference index</text>
<text x="1337" y="998" font-size="42" font-weight="bold">f</text>
<text x="1602.7" y="1002.2" font-size="25.1" text-anchor="middle">4 trials</text>
<path d="M1441.5 1037.5 Q1441.5 1028.5 1449 1028.5 L1756 1028.5 Q1763.5 1028.5 1763.5 1037.5" stroke="#000" stroke-width="3.8" fill="none"/>
<line x1="1602.7" y1="1020.5" x2="1602.7" y2="1028.5" stroke="#000" stroke-width="3.8"/>
<rect x="1443.4" y="1055" width="107.2" height="51.4" fill="none" stroke="#000" stroke-width="3.2"/>
<rect x="1550.6" y="1055" width="210.6" height="51.4" fill="none" stroke="#000" stroke-width="3.2"/>
<rect x="1776.2" y="1055" width="104.4" height="51.4" fill="none" stroke="#000" stroke-width="3.2"/>
<text x="1494.5" y="1089.7" font-size="21.1" text-anchor="middle">Mouse 1</text>
<text x="1655.6" y="1089.7" font-size="21.1" text-anchor="middle">Intertrial interval</text>
<text x="1827.5" y="1089.7" font-size="21.1" text-anchor="middle">Mouse 2</text>
<text x="1496" y="1133.6" font-size="21.1" text-anchor="middle">5 min</text>
<text x="1496" y="1158.2" font-size="21.1" text-anchor="middle">social interactions</text>
<text x="1653.5" y="1133.6" font-size="21.1" text-anchor="middle">10 min</text>
<text x="1827.5" y="1133.6" font-size="21.1" text-anchor="middle">5 min</text>
<text x="1827.5" y="1158.2" font-size="21.1" text-anchor="middle">dishabituation</text>
<g fill="none" stroke="#000" stroke-width="2.2" stroke-linecap="round" stroke-linejoin="round"><circle cx="1352.7" cy="1118.7" r="11"/><path d="M1357.2 1107.5L1365.4 1089.2M1352.3 1095.8L1365.4 1089.2L1369.1 1103.7"/></g>
<line x1="1525.9" y1="1217" x2="1525.9" y2="1238.9" stroke="#000" stroke-width="1.8"/>
<line x1="1522.4" y1="1217" x2="1529.4" y2="1217" stroke="#000" stroke-width="1.8"/>
<line x1="1522.4" y1="1238.9" x2="1529.4" y2="1238.9" stroke="#000" stroke-width="1.8"/>
<line x1="1525.9" y1="1260.3" x2="1525.9" y2="1301" stroke="#000" stroke-width="1.8"/>
<line x1="1522.4" y1="1260.3" x2="1529.4" y2="1260.3" stroke="#000" stroke-width="1.8"/>
<line x1="1522.4" y1="1301" x2="1529.4" y2="1301" stroke="#000" stroke-width="1.8"/>
<line x1="1610.3" y1="1318.4" x2="1610.3" y2="1340" stroke="#000" stroke-width="1.8"/>
<line x1="1606.8" y1="1318.4" x2="1613.8" y2="1318.4" stroke="#000" stroke-width="1.8"/>
<line x1="1606.8" y1="1340" x2="1613.8" y2="1340" stroke="#000" stroke-width="1.8"/>
<line x1="1610.3" y1="1322" x2="1610.3" y2="1360.6" stroke="#000" stroke-width="1.8"/>
<line x1="1606.8" y1="1322" x2="1613.8" y2="1322" stroke="#000" stroke-width="1.8"/>
<line x1="1606.8" y1="1360.6" x2="1613.8" y2="1360.6" stroke="#000" stroke-width="1.8"/>
<line x1="1696" y1="1336.4" x2="1696" y2="1360" stroke="#000" stroke-width="1.8"/>
<line x1="1692.5" y1="1336.4" x2="1699.5" y2="1336.4" stroke="#000" stroke-width="1.8"/>
<line x1="1692.5" y1="1360" x2="1699.5" y2="1360" stroke="#000" stroke-width="1.8"/>
<line x1="1696" y1="1341" x2="1696" y2="1367.5" stroke="#000" stroke-width="1.8"/>
<line x1="1692.5" y1="1341" x2="1699.5" y2="1341" stroke="#000" stroke-width="1.8"/>
<line x1="1692.5" y1="1367.5" x2="1699.5" y2="1367.5" stroke="#000" stroke-width="1.8"/>
<line x1="1780.8" y1="1303.5" x2="1780.8" y2="1345" stroke="#000" stroke-width="1.8"/>
<line x1="1777.3" y1="1303.5" x2="1784.3" y2="1303.5" stroke="#000" stroke-width="1.8"/>
<line x1="1777.3" y1="1345" x2="1784.3" y2="1345" stroke="#000" stroke-width="1.8"/>
<line x1="1780.8" y1="1356" x2="1780.8" y2="1375" stroke="#000" stroke-width="1.8"/>
<line x1="1777.3" y1="1356" x2="1784.3" y2="1356" stroke="#000" stroke-width="1.8"/>
<line x1="1777.3" y1="1375" x2="1784.3" y2="1375" stroke="#000" stroke-width="1.8"/>
<line x1="1866.6" y1="1275.9" x2="1866.6" y2="1321.5" stroke="#000" stroke-width="1.8"/>
<line x1="1863.1" y1="1275.9" x2="1870.1" y2="1275.9" stroke="#000" stroke-width="1.8"/>
<line x1="1863.1" y1="1321.5" x2="1870.1" y2="1321.5" stroke="#000" stroke-width="1.8"/>
<polyline points="1525.9,1227.5 1610.3,1329.5 1696,1354.4 1780.8,1365.8 1866.6,1302.5" fill="none" stroke="#5A8FD8" stroke-width="4.2" stroke-linejoin="round"/>
<circle cx="1525.9" cy="1227.5" r="4.6" fill="#5A8FD8"/>
<circle cx="1610.3" cy="1329.5" r="4.6" fill="#5A8FD8"/>
<circle cx="1696" cy="1354.4" r="4.6" fill="#5A8FD8"/>
<circle cx="1780.8" cy="1365.8" r="4.6" fill="#5A8FD8"/>
<circle cx="1866.6" cy="1302.5" r="4.6" fill="#5A8FD8"/>
<polyline points="1525.9,1281 1610.3,1342.6 1696,1352 1780.8,1324.3 1866.6,1291.8" fill="none" stroke="#C00000" stroke-width="4.2" stroke-linejoin="round"/>
<circle cx="1525.9" cy="1281" r="4.6" fill="#C00000"/>
<circle cx="1610.3" cy="1342.6" r="4.6" fill="#C00000"/>
<circle cx="1696" cy="1352" r="4.6" fill="#C00000"/>
<circle cx="1780.8" cy="1324.3" r="4.6" fill="#C00000"/>
<circle cx="1866.6" cy="1291.8" r="4.6" fill="#C00000"/>
<line x1="1440.1" y1="1191.9" x2="1440.1" y2="1444" stroke="#000" stroke-width="2"/>
<line x1="1431.4" y1="1443" x2="1440.1" y2="1443" stroke="#000" stroke-width="2"/>
<text x="1419.8" y="1451.8" font-size="25.5" text-anchor="end">0</text>
<line x1="1431.4" y1="1392.98" x2="1440.1" y2="1392.98" stroke="#000" stroke-width="2"/>
<text x="1419.8" y="1401.78" font-size="25.5" text-anchor="end">30</text>
<line x1="1431.4" y1="1342.96" x2="1440.1" y2="1342.96" stroke="#000" stroke-width="2"/>
<text x="1419.8" y="1351.76" font-size="25.5" text-anchor="end">60</text>
<line x1="1431.4" y1="1292.94" x2="1440.1" y2="1292.94" stroke="#000" stroke-width="2"/>
<text x="1419.8" y="1301.74" font-size="25.5" text-anchor="end">90</text>
<line x1="1431.4" y1="1242.92" x2="1440.1" y2="1242.92" stroke="#000" stroke-width="2"/>
<text x="1419.8" y="1251.72" font-size="25.5" text-anchor="end">120</text>
<line x1="1431.4" y1="1192.9" x2="1440.1" y2="1192.9" stroke="#000" stroke-width="2"/>
<text x="1419.8" y="1201.7" font-size="25.5" text-anchor="end">150</text>
<line x1="1440.1" y1="1443" x2="1866.6" y2="1443" stroke="#000" stroke-width="2"/>
<line x1="1440.1" y1="1443" x2="1440.1" y2="1450.6" stroke="#000" stroke-width="2"/>
<line x1="1525.9" y1="1443" x2="1525.9" y2="1450.6" stroke="#000" stroke-width="2"/>
<line x1="1610.3" y1="1443" x2="1610.3" y2="1450.6" stroke="#000" stroke-width="2"/>
<line x1="1696" y1="1443" x2="1696" y2="1450.6" stroke="#000" stroke-width="2"/>
<line x1="1780.8" y1="1443" x2="1780.8" y2="1450.6" stroke="#000" stroke-width="2"/>
<line x1="1866.6" y1="1443" x2="1866.6" y2="1450.6" stroke="#000" stroke-width="2"/>
<text x="1525.9" y="1481.7" font-size="25.3" text-anchor="middle">1</text>
<text x="1610.3" y="1481.7" font-size="25.3" text-anchor="middle">2</text>
<text x="1696" y="1481.7" font-size="25.3" text-anchor="middle">3</text>
<text x="1780.8" y="1481.7" font-size="25.3" text-anchor="middle">4</text>
<text x="1866.6" y="1481.7" font-size="25.3" text-anchor="middle">5</text>
<text x="1866.6" y="1505.9" font-size="25.3" text-anchor="middle">(novel)</text>
<text x="1655.6" y="1520.4" font-size="25.3" text-anchor="middle">Trial</text>
<text x="1525.9" y="1219.12" font-size="38" text-anchor="middle" font-weight="bold">*</text>
<text x="1782.5" y="1290.7" font-size="25" text-anchor="middle">n.s.</text>
<text x="1864.9" y="1267.2" font-size="25" text-anchor="middle">n.s.</text>
<text x="1788" y="1399" font-size="23.5" text-anchor="middle" font-weight="bold">###</text>
<text x="1866.3" y="1351.7" font-size="25.5" text-anchor="middle" font-weight="bold">#</text>
<line x1="1462.6" y1="1376.2" x2="1497.2" y2="1376.2" stroke="#5A8FD8" stroke-width="4.2"/>
<circle cx="1479.9" cy="1376.2" r="4.6" fill="#5A8FD8"/>
<text x="1506.3" y="1381.4" font-size="22">Ctrl</text>
<line x1="1462.6" y1="1416" x2="1497.2" y2="1416" stroke="#C00000" stroke-width="4.2"/>
<circle cx="1479.9" cy="1416" r="4.6" fill="#C00000"/>
<text x="1506.3" y="1421.8" font-size="22">MG<tspan font-size="14.8" dy="-11">4E</tspan></text>
<text x="1353" y="1317.4" font-size="25" text-anchor="middle" transform="rotate(-90 1353 1317.4)">Invesigation time (s)</text>
<text x="0.3" y="1589.5" font-size="42" font-weight="bold">g</text>
<rect x="140.6" y="1746.51" width="33.6" height="89.89" fill="#fff" stroke="#000" stroke-width="3"/>
<rect x="200.3" y="1804.91" width="33.7" height="31.49" fill="#A6A6AB" stroke="#000" stroke-width="3"/>
<circle cx="157.02" cy="1666.46" r="3.4" fill="#4F88D6"/>
<circle cx="157.02" cy="1698.76" r="3.4" fill="#4F88D6"/>
<circle cx="150.31" cy="1707.45" r="3.4" fill="#4F88D6"/>
<circle cx="163.48" cy="1715.65" r="3.4" fill="#4F88D6"/>
<circle cx="150.31" cy="1725.34" r="3.4" fill="#4F88D6"/>
<circle cx="163.48" cy="1727.83" r="3.4" fill="#4F88D6"/>
<circle cx="143.6" cy="1732.3" r="3.4" fill="#4F88D6"/>
<circle cx="157.02" cy="1737.27" r="3.4" fill="#4F88D6"/>
<circle cx="170.19" cy="1740.5" r="3.4" fill="#4F88D6"/>
<circle cx="157.02" cy="1754.66" r="3.4" fill="#4F88D6"/>
<circle cx="170.19" cy="1763.85" r="3.4" fill="#4F88D6"/>
<circle cx="143.6" cy="1767.08" r="3.4" fill="#4F88D6"/>
<circle cx="157.02" cy="1767.58" r="3.4" fill="#4F88D6"/>
<circle cx="157.02" cy="1782.73" r="3.4" fill="#4F88D6"/>
<circle cx="150.31" cy="1800.12" r="3.4" fill="#4F88D6"/>
<circle cx="163.48" cy="1803.11" r="3.4" fill="#4F88D6"/>
<rect x="207.03" y="1720.95" width="6.8" height="6.8" fill="#C40000"/>
<rect x="220.2" y="1724.67" width="6.8" height="6.8" fill="#C40000"/>
<rect x="213.49" y="1746.29" width="6.8" height="6.8" fill="#C40000"/>
<rect x="226.91" y="1754.99" width="6.8" height="6.8" fill="#C40000"/>
<rect x="200.33" y="1761.94" width="6.8" height="6.8" fill="#C40000"/>
<rect x="213.49" y="1762.44" width="6.8" height="6.8" fill="#C40000"/>
<rect x="213.49" y="1806.66" width="6.8" height="6.8" fill="#C40000"/>
<rect x="213.49" y="1820.82" width="6.8" height="6.8" fill="#C40000"/>
<rect x="200.33" y="1825.79" width="6.8" height="6.8" fill="#C40000"/>
<rect x="226.91" y="1825.79" width="6.8" height="6.8" fill="#C40000"/>
<rect x="213.49" y="1833.25" width="6.8" height="6.8" fill="#C40000"/>
<rect x="213.49" y="1855.61" width="6.8" height="6.8" fill="#C40000"/>
<rect x="207.03" y="1863.56" width="6.8" height="6.8" fill="#C40000"/>
<rect x="220.2" y="1873" width="6.8" height="6.8" fill="#C40000"/>
<line x1="157.3" y1="1734.55" x2="157.3" y2="1752.97" stroke="#000" stroke-width="2.4"/>
<line x1="148.3" y1="1734.55" x2="166.3" y2="1734.55" stroke="#000" stroke-width="2.4"/>
<line x1="148.3" y1="1752.97" x2="166.3" y2="1752.97" stroke="#000" stroke-width="2.4"/>
<line x1="217.1" y1="1788.07" x2="217.1" y2="1815.88" stroke="#000" stroke-width="2.4"/>
<line x1="208.1" y1="1788.07" x2="226.1" y2="1788.07" stroke="#000" stroke-width="2.4"/>
<line x1="208.1" y1="1815.88" x2="226.1" y2="1815.88" stroke="#000" stroke-width="2.4"/>
<line x1="117.5" y1="1643.4" x2="117.5" y2="1933.5" stroke="#000" stroke-width="2.4"/>
<line x1="108.5" y1="1932.3" x2="117.5" y2="1932.3" stroke="#000" stroke-width="2.4"/>
<text x="96.5" y="1941.1" font-size="25.5" text-anchor="end">−0.5</text>
<line x1="108.5" y1="1836.4" x2="117.5" y2="1836.4" stroke="#000" stroke-width="2.4"/>
<text x="96.5" y="1845.2" font-size="25.5" text-anchor="end">0.0</text>
<line x1="108.5" y1="1740.5" x2="117.5" y2="1740.5" stroke="#000" stroke-width="2.4"/>
<text x="96.5" y="1749.3" font-size="25.5" text-anchor="end">0.5</text>
<line x1="108.5" y1="1644.6" x2="117.5" y2="1644.6" stroke="#000" stroke-width="2.4"/>
<text x="96.5" y="1653.4" font-size="25.5" text-anchor="end">1.0</text>
<line x1="108.8" y1="1932.3" x2="257.1" y2="1932.3" stroke="#000" stroke-width="2.6"/>
<line x1="157" y1="1932.3" x2="157" y2="1941.8" stroke="#000" stroke-width="2.6"/>
<line x1="216.9" y1="1932.3" x2="216.9" y2="1941.8" stroke="#000" stroke-width="2.6"/>
<line x1="108.8" y1="1836.4" x2="256.6" y2="1836.4" stroke="#000" stroke-width="2.4"/>
<text x="157" y="1979" font-size="25.6" text-anchor="middle">Ctrl</text>
<text x="216.9" y="1979" font-size="25.6" text-anchor="middle">MG<tspan font-size="17.28" dy="-12.8">4E</tspan></text>
<g fill="none" stroke="#000" stroke-width="2.2" stroke-linecap="round" stroke-linejoin="round"><circle cx="104.7" cy="1608.7" r="11"/><path d="M109.2 1597.5L117.4 1579.2M104.3 1585.8L117.4 1579.2L121.1 1593.7"/></g>
<line x1="159" y1="1638.4" x2="224.3" y2="1638.4" stroke="#231815" stroke-width="4.2"/>
<text x="191.05" y="1634.4" font-size="40" text-anchor="middle" font-weight="bold" letter-spacing="2.1">**</text>
<text x="27.2" y="1787.5" font-size="25" text-anchor="middle" transform="rotate(-90 27.2 1787.5)">Habituation index</text>
<text x="365.7" y="1590.3" font-size="42" font-weight="bold">h</text>
<rect x="488.45" y="1868.77" width="16.4" height="63.13" fill="#fff" stroke="#1482FA" stroke-width="3.5"/>
<rect x="521.45" y="1823.07" width="16.4" height="108.83" fill="#fff" stroke="#FF7F00" stroke-width="3.5"/>
<rect x="576.15" y="1857.12" width="16.4" height="74.78" fill="#fff" stroke="#1482FA" stroke-width="3.5"/>
<rect x="608.95" y="1870.79" width="16.3" height="61.11" fill="#fff" stroke="#FF7F00" stroke-width="3.5"/>
<circle cx="496.62" cy="1710.74" r="2.3" fill="#1482FA"/>
<circle cx="496.62" cy="1797.71" r="2.3" fill="#1482FA"/>
<circle cx="496.62" cy="1847.42" r="2.3" fill="#1482FA"/>
<circle cx="496.62" cy="1855.86" r="2.3" fill="#1482FA"/>
<circle cx="490.9" cy="1873.26" r="2.3" fill="#1482FA"/>
<circle cx="502.09" cy="1880.22" r="2.3" fill="#1482FA"/>
<circle cx="490.9" cy="1893.89" r="2.3" fill="#1482FA"/>
<circle cx="490.9" cy="1905.57" r="2.3" fill="#1482FA"/>
<circle cx="502.09" cy="1908.8" r="2.3" fill="#1482FA"/>
<circle cx="490.9" cy="1912.52" r="2.3" fill="#1482FA"/>
<circle cx="502.09" cy="1916.25" r="2.3" fill="#1482FA"/>
<circle cx="584.1" cy="1776.59" r="2.3" fill="#1482FA"/>
<circle cx="578.63" cy="1809.39" r="2.3" fill="#1482FA"/>
<circle cx="589.81" cy="1808.15" r="2.3" fill="#1482FA"/>
<circle cx="584.1" cy="1837.97" r="2.3" fill="#1482FA"/>
<circle cx="578.63" cy="1852.88" r="2.3" fill="#1482FA"/>
<circle cx="589.81" cy="1852.88" r="2.3" fill="#1482FA"/>
<circle cx="584.1" cy="1871.02" r="2.3" fill="#1482FA"/>
<circle cx="578.63" cy="1878.23" r="2.3" fill="#1482FA"/>
<circle cx="589.81" cy="1881.96" r="2.3" fill="#1482FA"/>
<circle cx="584.1" cy="1902.09" r="2.3" fill="#1482FA"/>
<circle cx="584.1" cy="1918.74" r="2.3" fill="#1482FA"/>
<rect x="527.12" y="1713.41" width="4.6" height="4.6" fill="#FF7F00"/>
<rect x="523.4" y="1745.46" width="4.6" height="4.6" fill="#FF7F00"/>
<rect x="530.85" y="1745.46" width="4.6" height="4.6" fill="#FF7F00"/>
<rect x="523.4" y="1848.1" width="4.6" height="4.6" fill="#FF7F00"/>
<rect x="534.58" y="1847.35" width="4.6" height="4.6" fill="#FF7F00"/>
<rect x="527.12" y="1856.8" width="4.6" height="4.6" fill="#FF7F00"/>
<rect x="523.4" y="1875.43" width="4.6" height="4.6" fill="#FF7F00"/>
<rect x="530.85" y="1875.43" width="4.6" height="4.6" fill="#FF7F00"/>
<rect x="614.85" y="1779.76" width="4.6" height="4.6" fill="#FF7F00"/>
<rect x="614.85" y="1836.17" width="4.6" height="4.6" fill="#FF7F00"/>
<rect x="609.13" y="1841.88" width="4.6" height="4.6" fill="#FF7F00"/>
<rect x="620.56" y="1846.11" width="4.6" height="4.6" fill="#FF7F00"/>
<rect x="614.85" y="1889.1" width="4.6" height="4.6" fill="#FF7F00"/>
<rect x="609.13" y="1892.83" width="4.6" height="4.6" fill="#FF7F00"/>
<rect x="620.56" y="1896.56" width="4.6" height="4.6" fill="#FF7F00"/>
<rect x="609.13" y="1903.27" width="4.6" height="4.6" fill="#FF7F00"/>
<rect x="620.56" y="1910.22" width="4.6" height="4.6" fill="#FF7F00"/>
<line x1="496.6" y1="1848.67" x2="496.6" y2="1882.71" stroke="#000" stroke-width="2.4"/>
<line x1="491.1" y1="1848.67" x2="502.1" y2="1848.67" stroke="#000" stroke-width="2.4"/>
<line x1="491.1" y1="1882.71" x2="502.1" y2="1882.71" stroke="#000" stroke-width="2.4"/>
<line x1="529.6" y1="1804.44" x2="529.6" y2="1836.19" stroke="#000" stroke-width="2.4"/>
<line x1="524.1" y1="1804.44" x2="535.1" y2="1804.44" stroke="#000" stroke-width="2.4"/>
<line x1="524.1" y1="1836.19" x2="535.1" y2="1836.19" stroke="#000" stroke-width="2.4"/>
<line x1="584.3" y1="1842.43" x2="584.3" y2="1866.56" stroke="#000" stroke-width="2.4"/>
<line x1="578.8" y1="1842.43" x2="589.8" y2="1842.43" stroke="#000" stroke-width="2.4"/>
<line x1="578.8" y1="1866.56" x2="589.8" y2="1866.56" stroke="#000" stroke-width="2.4"/>
<line x1="617.1" y1="1857.11" x2="617.1" y2="1879.04" stroke="#000" stroke-width="2.4"/>
<line x1="611.6" y1="1857.11" x2="622.6" y2="1857.11" stroke="#000" stroke-width="2.4"/>
<line x1="611.6" y1="1879.04" x2="622.6" y2="1879.04" stroke="#000" stroke-width="2.4"/>
<line x1="474.3" y1="1655.4" x2="474.3" y2="1933.1" stroke="#000" stroke-width="2.4"/>
<line x1="465.3" y1="1931.9" x2="474.3" y2="1931.9" stroke="#000" stroke-width="2.4"/>
<text x="453.3" y="1940.7" font-size="25.5" text-anchor="end">0</text>
<line x1="465.3" y1="1840.13" x2="474.3" y2="1840.13" stroke="#000" stroke-width="2.4"/>
<text x="453.3" y="1848.93" font-size="25.5" text-anchor="end">100</text>
<line x1="465.3" y1="1748.37" x2="474.3" y2="1748.37" stroke="#000" stroke-width="2.4"/>
<text x="453.3" y="1757.17" font-size="25.5" text-anchor="end">200</text>
<line x1="465.3" y1="1656.6" x2="474.3" y2="1656.6" stroke="#000" stroke-width="2.4"/>
<text x="453.3" y="1665.4" font-size="25.5" text-anchor="end">300</text>
<line x1="465.6" y1="1931.9" x2="639.5" y2="1931.9" stroke="#000" stroke-width="2.6"/>
<line x1="512.8" y1="1931.9" x2="512.8" y2="1941.4" stroke="#000" stroke-width="2.6"/>
<line x1="600.5" y1="1931.9" x2="600.5" y2="1941.4" stroke="#000" stroke-width="2.6"/>
<text x="512.8" y="1979" font-size="25.6" text-anchor="middle">Ctrl</text>
<text x="600.5" y="1979" font-size="25.6" text-anchor="middle">MG<tspan font-size="17.28" dy="-12.8">4E</tspan></text>
<g fill="none" stroke="#000" stroke-width="2.2" stroke-linecap="round" stroke-linejoin="round"><circle cx="457.2" cy="1608.7" r="11"/><path d="M461.7 1597.5L469.9 1579.2M456.8 1585.8L469.9 1579.2L473.6 1593.7"/></g>
<line x1="495.9" y1="1681" x2="527" y2="1681" stroke="#231815" stroke-width="4.2"/>
<text x="512.8" y="1682.9" font-size="40" text-anchor="middle" font-weight="bold">*</text>
<line x1="535.9" y1="1681" x2="622.1" y2="1681" stroke="#231815" stroke-width="4.2"/>
<text x="579.1" y="1682.9" font-size="40" text-anchor="middle" font-weight="bold">*</text>
<line x1="578.6" y1="1753.5" x2="626.6" y2="1753.5" stroke="#231815" stroke-width="4.2"/>
<text x="602.7" y="1747.3" font-size="25" text-anchor="middle">n.s.</text>
<circle cx="653.7" cy="1884" r="2.3" fill="#1482FA"/>
<text x="664" y="1891.4" font-size="21">Familiar</text>
<rect x="651.4" y="1911.5" width="4.6" height="4.6" fill="#FF7F00"/>
<text x="664" y="1920" font-size="21">Novel</text>
<text x="386.7" y="1794.5" font-size="25" text-anchor="middle" transform="rotate(-90 386.7 1794.5)">Investigation time (s)</text>
<rect x="992.8" y="1784.8" width="33.5" height="147.5" fill="#fff" stroke="#000" stroke-width="3"/>
<rect x="1052.5" y="1830.62" width="33.7" height="101.68" fill="#A6A6AB" stroke="#000" stroke-width="3"/>
<circle cx="1009.94" cy="1693.29" r="3.4" fill="#4F88D6"/>
<circle cx="1014.91" cy="1736.52" r="3.4" fill="#4F88D6"/>
<circle cx="1004.97" cy="1745.22" r="3.4" fill="#4F88D6"/>
<circle cx="1004.97" cy="1750.93" r="3.4" fill="#4F88D6"/>
<circle cx="1014.91" cy="1756.4" r="3.4" fill="#4F88D6"/>
<circle cx="1009.94" cy="1780" r="3.4" fill="#4F88D6"/>
<circle cx="995.03" cy="1808.57" r="3.4" fill="#4F88D6"/>
<circle cx="1004.97" cy="1811.06" r="3.4" fill="#4F88D6"/>
<circle cx="1024.84" cy="1808.57" r="3.4" fill="#4F88D6"/>
<circle cx="1014.91" cy="1817.27" r="3.4" fill="#4F88D6"/>
<circle cx="1004.97" cy="1831.68" r="3.4" fill="#4F88D6"/>
<circle cx="1014.91" cy="1840.37" r="3.4" fill="#4F88D6"/>
<rect x="1066.17" y="1721.94" width="6.8" height="6.8" fill="#C40000"/>
<rect x="1061.2" y="1776.6" width="6.8" height="6.8" fill="#C40000"/>
<rect x="1071.13" y="1773.62" width="6.8" height="6.8" fill="#C40000"/>
<rect x="1066.17" y="1788.03" width="6.8" height="6.8" fill="#C40000"/>
<rect x="1066.17" y="1811.38" width="6.8" height="6.8" fill="#C40000"/>
<rect x="1071.13" y="1835.73" width="6.8" height="6.8" fill="#C40000"/>
<rect x="1081.07" y="1833.99" width="6.8" height="6.8" fill="#C40000"/>
<rect x="1051.26" y="1842.69" width="6.8" height="6.8" fill="#C40000"/>
<rect x="1061.2" y="1842.69" width="6.8" height="6.8" fill="#C40000"/>
<rect x="1061.2" y="1877.22" width="6.8" height="6.8" fill="#C40000"/>
<rect x="1071.13" y="1882.94" width="6.8" height="6.8" fill="#C40000"/>
<rect x="1066.17" y="1897.35" width="6.8" height="6.8" fill="#C40000"/>
<line x1="1009.8" y1="1768.89" x2="1009.8" y2="1795.12" stroke="#000" stroke-width="2.4"/>
<line x1="1000.3" y1="1768.89" x2="1019.3" y2="1768.89" stroke="#000" stroke-width="2.4"/>
<line x1="1000.3" y1="1795.12" x2="1019.3" y2="1795.12" stroke="#000" stroke-width="2.4"/>
<line x1="1069.4" y1="1811.83" x2="1069.4" y2="1842.38" stroke="#000" stroke-width="2.4"/>
<line x1="1059.9" y1="1811.83" x2="1078.9" y2="1811.83" stroke="#000" stroke-width="2.4"/>
<line x1="1059.9" y1="1842.38" x2="1078.9" y2="1842.38" stroke="#000" stroke-width="2.4"/>
<line x1="970.7" y1="1642.9" x2="970.7" y2="1933.5" stroke="#000" stroke-width="2.4"/>
<line x1="961.7" y1="1932.3" x2="970.7" y2="1932.3" stroke="#000" stroke-width="2.4"/>
<text x="949.7" y="1941.1" font-size="25.5" text-anchor="end">0</text>
<line x1="961.7" y1="1874.66" x2="970.7" y2="1874.66" stroke="#000" stroke-width="2.4"/>
<text x="949.7" y="1883.46" font-size="25.5" text-anchor="end">20</text>
<line x1="961.7" y1="1817.02" x2="970.7" y2="1817.02" stroke="#000" stroke-width="2.4"/>
<text x="949.7" y="1825.82" font-size="25.5" text-anchor="end">40</text>
<line x1="961.7" y1="1759.38" x2="970.7" y2="1759.38" stroke="#000" stroke-width="2.4"/>
<text x="949.7" y="1768.18" font-size="25.5" text-anchor="end">60</text>
<line x1="961.7" y1="1701.74" x2="970.7" y2="1701.74" stroke="#000" stroke-width="2.4"/>
<text x="949.7" y="1710.54" font-size="25.5" text-anchor="end">80</text>
<line x1="961.7" y1="1644.1" x2="970.7" y2="1644.1" stroke="#000" stroke-width="2.4"/>
<text x="949.7" y="1652.9" font-size="25.5" text-anchor="end">100</text>
<line x1="961.5" y1="1932.3" x2="1110" y2="1932.3" stroke="#000" stroke-width="2.6"/>
<line x1="1010" y1="1932.3" x2="1010" y2="1941.8" stroke="#000" stroke-width="2.6"/>
<line x1="1069.1" y1="1932.3" x2="1069.1" y2="1941.8" stroke="#000" stroke-width="2.6"/>
<text x="1010" y="1979" font-size="25.6" text-anchor="middle">Ctrl</text>
<text x="1069.1" y="1979" font-size="25.6" text-anchor="middle">MG<tspan font-size="17.28" dy="-12.8">4E</tspan></text>
<g fill="none" stroke="#000" stroke-width="2.2" stroke-linecap="round" stroke-linejoin="round"><circle cx="944.5" cy="1608.7" r="11"/><path d="M949 1597.5L957.2 1579.2M944.1 1585.8L957.2 1579.2L960.9 1593.7"/></g>
<line x1="1007.5" y1="1670.2" x2="1070.8" y2="1670.2" stroke="#231815" stroke-width="4.2"/>
<text x="1038.5" y="1665.5" font-size="40" text-anchor="middle" font-weight="bold">*</text>
<text x="849.4" y="1787.5" font-size="25" text-anchor="middle" transform="rotate(-90 849.4 1787.5)">Novel object</text>
<text x="880.4" y="1788" font-size="25" text-anchor="middle" transform="rotate(-90 880.4 1788)">investigation (#)</text>
<text x="1195.6" y="1590.3" font-size="42" font-weight="bold">i</text>
<rect x="1323" y="1749.21" width="34.3" height="38.99" fill="#fff" stroke="#000" stroke-width="3"/>
<rect x="1382.5" y="1788.2" width="34.4" height="11.7" fill="#A6A6AB" stroke="#000" stroke-width="3"/>
<circle cx="1340.12" cy="1663.48" r="3.4" fill="#4F88D6"/>
<circle cx="1353.29" cy="1695.03" r="3.4" fill="#4F88D6"/>
<circle cx="1326.96" cy="1698.76" r="3.4" fill="#4F88D6"/>
<circle cx="1340.12" cy="1700" r="3.4" fill="#4F88D6"/>
<circle cx="1340.12" cy="1710.43" r="3.4" fill="#4F88D6"/>
<circle cx="1326.96" cy="1719.88" r="3.4" fill="#4F88D6"/>
<circle cx="1353.29" cy="1719.88" r="3.4" fill="#4F88D6"/>
<circle cx="1340.12" cy="1760.87" r="3.4" fill="#4F88D6"/>
<circle cx="1333.42" cy="1790.68" r="3.4" fill="#4F88D6"/>
<circle cx="1346.83" cy="1792.67" r="3.4" fill="#4F88D6"/>
<circle cx="1333.42" cy="1847.08" r="3.4" fill="#4F88D6"/>
<circle cx="1346.83" cy="1855.28" r="3.4" fill="#4F88D6"/>
<rect x="1396.35" y="1724.43" width="6.8" height="6.8" fill="#C40000"/>
<rect x="1392.62" y="1740.08" width="6.8" height="6.8" fill="#C40000"/>
<rect x="1400.58" y="1736.35" width="6.8" height="6.8" fill="#C40000"/>
<rect x="1392.62" y="1780.58" width="6.8" height="6.8" fill="#C40000"/>
<rect x="1400.58" y="1780.58" width="6.8" height="6.8" fill="#C40000"/>
<rect x="1381.44" y="1808.4" width="6.8" height="6.8" fill="#C40000"/>
<rect x="1388.9" y="1809.15" width="6.8" height="6.8" fill="#C40000"/>
<rect x="1396.35" y="1812.87" width="6.8" height="6.8" fill="#C40000"/>
<rect x="1404.55" y="1805.42" width="6.8" height="6.8" fill="#C40000"/>
<rect x="1411.76" y="1803.43" width="6.8" height="6.8" fill="#C40000"/>
<rect x="1396.35" y="1868.53" width="6.8" height="6.8" fill="#C40000"/>
<rect x="1396.35" y="1879.21" width="6.8" height="6.8" fill="#C40000"/>
<line x1="1340.2" y1="1728.01" x2="1340.2" y2="1764.14" stroke="#000" stroke-width="2.4"/>
<line x1="1331.2" y1="1728.01" x2="1349.2" y2="1728.01" stroke="#000" stroke-width="2.4"/>
<line x1="1331.2" y1="1764.14" x2="1349.2" y2="1764.14" stroke="#000" stroke-width="2.4"/>
<line x1="1399.8" y1="1785.2" x2="1399.8" y2="1812.5" stroke="#000" stroke-width="2.4"/>
<line x1="1390.8" y1="1785.2" x2="1408.8" y2="1785.2" stroke="#000" stroke-width="2.4"/>
<line x1="1390.8" y1="1812.5" x2="1408.8" y2="1812.5" stroke="#000" stroke-width="2.4"/>
<line x1="1301.1" y1="1642.9" x2="1301.1" y2="1933.5" stroke="#000" stroke-width="2.4"/>
<line x1="1292.1" y1="1932.3" x2="1301.1" y2="1932.3" stroke="#000" stroke-width="2.4"/>
<text x="1280.1" y="1941.1" font-size="25.5" text-anchor="end">−1.0</text>
<line x1="1292.1" y1="1860.25" x2="1301.1" y2="1860.25" stroke="#000" stroke-width="2.4"/>
<text x="1280.1" y="1869.05" font-size="25.5" text-anchor="end">−0.5</text>
<line x1="1292.1" y1="1788.2" x2="1301.1" y2="1788.2" stroke="#000" stroke-width="2.4"/>
<text x="1280.1" y="1797" font-size="25.5" text-anchor="end">0.0</text>
<line x1="1292.1" y1="1716.15" x2="1301.1" y2="1716.15" stroke="#000" stroke-width="2.4"/>
<text x="1280.1" y="1724.95" font-size="25.5" text-anchor="end">0.5</text>
<line x1="1292.1" y1="1644.1" x2="1301.1" y2="1644.1" stroke="#000" stroke-width="2.4"/>
<text x="1280.1" y="1652.9" font-size="25.5" text-anchor="end">1.0</text>
<line x1="1291.2" y1="1932.3" x2="1440.7" y2="1932.3" stroke="#000" stroke-width="2.6"/>
<line x1="1340.1" y1="1932.3" x2="1340.1" y2="1941.8" stroke="#000" stroke-width="2.6"/>
<line x1="1399.8" y1="1932.3" x2="1399.8" y2="1941.8" stroke="#000" stroke-width="2.6"/>
<line x1="1291.2" y1="1788.2" x2="1440.7" y2="1788.2" stroke="#000" stroke-width="2.4"/>
<text x="1340.1" y="1979" font-size="25.6" text-anchor="middle">Ctrl</text>
<text x="1399.8" y="1979" font-size="25.6" text-anchor="middle">MG<tspan font-size="17.28" dy="-12.8">4E</tspan></text>
<g fill="none" stroke="#000" stroke-width="2.2" stroke-linecap="round" stroke-linejoin="round"><circle cx="1283.6" cy="1608.7" r="11"/><path d="M1288.1 1597.5L1296.3 1579.2M1283.2 1585.8L1296.3 1579.2L1300 1593.7"/></g>
<line x1="1337.6" y1="1640.4" x2="1402.2" y2="1640.4" stroke="#231815" stroke-width="4.2"/>
<text x="1366.2" y="1636.9" font-size="40" text-anchor="middle" font-weight="bold">*</text>
<text x="1210.4" y="1793.7" font-size="25" text-anchor="middle" transform="rotate(-90 1210.4 1793.7)">Discrimination index</text>
<text x="1557.6" y="1590.6" font-size="42" font-weight="bold">j</text>
<rect x="1674" y="1908.86" width="46.7" height="24.14" fill="#5A8FD8"/>
<rect x="1674" y="1872.65" width="46.7" height="36.21" fill="#86407B"/>
<rect x="1674" y="1844.72" width="46.7" height="27.93" fill="#5DB315"/>
<rect x="1750.6" y="1910.52" width="46.4" height="22.48" fill="#5A8FD8"/>
<rect x="1750.6" y="1852.3" width="46.4" height="58.22" fill="#86407B"/>
<rect x="1750.6" y="1728.05" width="46.4" height="124.25" fill="#5DB315"/>
<line x1="1697.4" y1="1844.8" x2="1697.4" y2="1831.2" stroke="#000" stroke-width="2"/>
<line x1="1693.4" y1="1831.2" x2="1701.4" y2="1831.2" stroke="#000" stroke-width="2"/>
<line x1="1773.9" y1="1729.8" x2="1773.9" y2="1685.6" stroke="#000" stroke-width="2"/>
<line x1="1769.9" y1="1685.6" x2="1777.9" y2="1685.6" stroke="#000" stroke-width="2"/>
<line x1="1659.1" y1="1647.4" x2="1659.1" y2="1934.6" stroke="#000" stroke-width="3.2"/>
<line x1="1650.4" y1="1933" x2="1659.1" y2="1933" stroke="#000" stroke-width="3.2"/>
<text x="1638.6" y="1941.8" font-size="25.5" text-anchor="end">0</text>
<line x1="1650.4" y1="1862" x2="1659.1" y2="1862" stroke="#000" stroke-width="3.2"/>
<text x="1638.6" y="1870.8" font-size="25.5" text-anchor="end">150</text>
<line x1="1650.4" y1="1791" x2="1659.1" y2="1791" stroke="#000" stroke-width="3.2"/>
<text x="1638.6" y="1799.8" font-size="25.5" text-anchor="end">300</text>
<line x1="1650.4" y1="1720" x2="1659.1" y2="1720" stroke="#000" stroke-width="3.2"/>
<text x="1638.6" y="1728.8" font-size="25.5" text-anchor="end">450</text>
<line x1="1650.4" y1="1649" x2="1659.1" y2="1649" stroke="#000" stroke-width="3.2"/>
<text x="1638.6" y="1657.8" font-size="25.5" text-anchor="end">600</text>
<line x1="1650.4" y1="1933" x2="1812.7" y2="1933" stroke="#000" stroke-width="3.2"/>
<line x1="1659.1" y1="1933" x2="1659.1" y2="1941.5" stroke="#000" stroke-width="3.2"/>
<line x1="1734.9" y1="1933" x2="1734.9" y2="1941.5" stroke="#000" stroke-width="3.2"/>
<line x1="1812.7" y1="1933" x2="1812.7" y2="1941.5" stroke="#000" stroke-width="3.2"/>
<text x="1695.2" y="1979" font-size="25.6" text-anchor="middle">Ctrl</text>
<text x="1772" y="1979" font-size="25.6" text-anchor="middle">MG<tspan font-size="17.3" dy="-12.8">4E</tspan></text>
<text x="1773.4" y="1689.1" font-size="40" text-anchor="middle" font-weight="bold">*</text>
<text x="1773.05" y="1812.1" font-size="40" text-anchor="middle" font-weight="bold" letter-spacing="2.1">**</text>
<text x="1774.7" y="1886.8" font-size="22" text-anchor="middle" fill="#fff">n.s.</text>
<text x="1774.7" y="1927.3" font-size="22" text-anchor="middle" fill="#fff">n.s.</text>
<rect x="1811.4" y="1819.8" width="12.9" height="12.2" fill="#5DB315"/>
<text x="1832" y="1832.2" font-size="21.1">20–30 min</text>
<rect x="1811.4" y="1859" width="12.9" height="12.2" fill="#86407B"/>
<text x="1832" y="1872.7" font-size="21.1">10–20 min</text>
<rect x="1811.4" y="1897" width="12.9" height="12.2" fill="#5A8FD8"/>
<text x="1832" y="1911.2" font-size="21.1">0–10 min</text>
<g fill="none" stroke="#000" stroke-width="2.2" stroke-linecap="round" stroke-linejoin="round"><circle cx="1649.8" cy="1608.7" r="11"/><path d="M1654.3 1597.5L1662.5 1579.2M1649.4 1585.8L1662.5 1579.2L1666.2 1593.7"/></g>
<text x="1570.4" y="1792" font-size="25" text-anchor="middle" transform="rotate(-90 1570.4 1792)">Grooming time (s)</text>
</svg>
</body></html>
